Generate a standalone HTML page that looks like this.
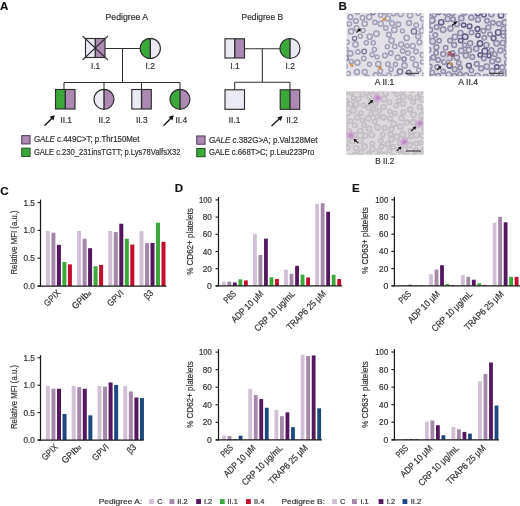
<!DOCTYPE html>
<html><head><meta charset="utf-8"><style>
html,body{margin:0;padding:0;background:#fff;width:520px;height:506px;overflow:hidden}
svg{display:block;will-change:transform}
text{font-family:"Liberation Sans",sans-serif;stroke:#333;stroke-width:0.2px}
</style></head><body>
<svg width="520" height="506" viewBox="0 0 520 506">
<text x="0.1" y="9.6" font-size="11.6" text-anchor="start" fill="#111" font-weight="bold" >A</text>
<text x="338.4" y="9.6" font-size="11.6" text-anchor="start" fill="#111" font-weight="bold" >B</text>
<text x="0.2" y="194.7" font-size="11.6" text-anchor="start" fill="#111" font-weight="bold" >C</text>
<text x="174.7" y="192.3" font-size="11.6" text-anchor="start" fill="#111" font-weight="bold" >D</text>
<text x="352.1" y="191.9" font-size="11.6" text-anchor="start" fill="#111" font-weight="bold" >E</text>
<text x="126.8" y="20" font-size="8.2" text-anchor="middle" fill="#333333" font-weight="normal" textLength="42.5" lengthAdjust="spacingAndGlyphs" >Pedigree A</text>
<line x1="105" y1="48.5" x2="140" y2="48.5" stroke="#2e2e2e" stroke-width="1.05"/>
<line x1="122.5" y1="48.5" x2="122.5" y2="82.5" stroke="#2e2e2e" stroke-width="1.05"/>
<rect x="85.5" y="38.5" width="9.75" height="19" fill="#eaeaf5"/>
<rect x="95.25" y="38.5" width="9.75" height="19" fill="#ab89b3"/>
<line x1="95.25" y1="38.5" x2="95.25" y2="57.5" stroke="#2e2e2e" stroke-width="1.38"/>
<rect x="85.5" y="38.5" width="19.5" height="19" fill="none" stroke="#2e2e2e" stroke-width="1.15"/>
<line x1="82.5" y1="36" x2="108" y2="60" stroke="#2e2e2e" stroke-width="1.05"/>
<line x1="82.5" y1="60" x2="108" y2="36" stroke="#2e2e2e" stroke-width="1.05"/>
<path d="M150.3,38.3 A10.1,10.1 0 0 0 150.3,58.5 Z" fill="#3aa93a"/>
<path d="M150.3,38.3 A10.1,10.1 0 0 1 150.3,58.5 Z" fill="#eaeaf5"/>
<line x1="150.3" y1="38.3" x2="150.3" y2="58.5" stroke="#2e2e2e" stroke-width="1.4375"/>
<circle cx="150.3" cy="48.4" r="10.1" fill="none" stroke="#2e2e2e" stroke-width="1.15"/>
<text x="95.6" y="69" font-size="8.4" text-anchor="middle" fill="#333333" font-weight="normal" >I.1</text>
<text x="150.2" y="69" font-size="8.4" text-anchor="middle" fill="#333333" font-weight="normal" >I.2</text>
<line x1="64" y1="82.5" x2="180" y2="82.5" stroke="#2e2e2e" stroke-width="1.05"/>
<line x1="64" y1="82.5" x2="64" y2="89.5" stroke="#2e2e2e" stroke-width="1.05"/>
<line x1="104" y1="82.5" x2="104" y2="89.5" stroke="#2e2e2e" stroke-width="1.05"/>
<line x1="141.5" y1="82.5" x2="141.5" y2="89.5" stroke="#2e2e2e" stroke-width="1.05"/>
<line x1="180" y1="82.5" x2="180" y2="89.5" stroke="#2e2e2e" stroke-width="1.05"/>
<rect x="55.5" y="89.5" width="9.75" height="19.5" fill="#3aa93a"/>
<rect x="65.25" y="89.5" width="9.75" height="19.5" fill="#ab89b3"/>
<line x1="65.25" y1="89.5" x2="65.25" y2="109.0" stroke="#2e2e2e" stroke-width="1.38"/>
<rect x="55.5" y="89.5" width="19.5" height="19.5" fill="none" stroke="#2e2e2e" stroke-width="1.15"/>
<path d="M104,89.3 A10,10 0 0 0 104,109.3 Z" fill="#eaeaf5"/>
<path d="M104,89.3 A10,10 0 0 1 104,109.3 Z" fill="#ab89b3"/>
<line x1="104" y1="89.3" x2="104" y2="109.3" stroke="#2e2e2e" stroke-width="1.4375"/>
<circle cx="104" cy="99.3" r="10" fill="none" stroke="#2e2e2e" stroke-width="1.15"/>
<rect x="131.8" y="89.5" width="9.75" height="19.5" fill="#eaeaf5"/>
<rect x="141.55" y="89.5" width="9.75" height="19.5" fill="#ab89b3"/>
<line x1="141.55" y1="89.5" x2="141.55" y2="109.0" stroke="#2e2e2e" stroke-width="1.38"/>
<rect x="131.8" y="89.5" width="19.5" height="19.5" fill="none" stroke="#2e2e2e" stroke-width="1.15"/>
<path d="M180,89.3 A10,10 0 0 0 180,109.3 Z" fill="#3aa93a"/>
<path d="M180,89.3 A10,10 0 0 1 180,109.3 Z" fill="#ab89b3"/>
<line x1="180" y1="89.3" x2="180" y2="109.3" stroke="#2e2e2e" stroke-width="1.4375"/>
<circle cx="180" cy="99.3" r="10" fill="none" stroke="#2e2e2e" stroke-width="1.15"/>
<text x="66.2" y="123" font-size="8.4" text-anchor="middle" fill="#333333" font-weight="normal" >II.1</text>
<text x="104.3" y="123" font-size="8.4" text-anchor="middle" fill="#333333" font-weight="normal" >II.2</text>
<text x="141.8" y="123" font-size="8.4" text-anchor="middle" fill="#333333" font-weight="normal" >II.3</text>
<text x="181.3" y="123" font-size="8.4" text-anchor="middle" fill="#333333" font-weight="normal" >II.4</text>
<line x1="44.5" y1="125.8" x2="51.928871245091464" y2="118.22687882781938" stroke="#111" stroke-width="1.3"/>
<path d="M54.80,115.30 L53.43,120.40 L49.72,116.76 Z" fill="#111"/>
<line x1="163.5" y1="125.8" x2="170.92887124509147" y2="118.22687882781938" stroke="#111" stroke-width="1.3"/>
<path d="M173.80,115.30 L172.43,120.40 L168.72,116.76 Z" fill="#111"/>
<text x="262.3" y="20" font-size="8.2" text-anchor="middle" fill="#333333" font-weight="normal" textLength="41.5" lengthAdjust="spacingAndGlyphs" >Pedigree B</text>
<line x1="244.5" y1="48.8" x2="280" y2="48.8" stroke="#2e2e2e" stroke-width="1.05"/>
<line x1="262.3" y1="48.8" x2="262.3" y2="82.3" stroke="#2e2e2e" stroke-width="1.05"/>
<rect x="225" y="38.8" width="9.75" height="19.2" fill="#eaeaf5"/>
<rect x="234.75" y="38.8" width="9.75" height="19.2" fill="#ab89b3"/>
<line x1="234.75" y1="38.8" x2="234.75" y2="58.0" stroke="#2e2e2e" stroke-width="1.38"/>
<rect x="225" y="38.8" width="19.5" height="19.2" fill="none" stroke="#2e2e2e" stroke-width="1.15"/>
<path d="M290,38.5 A10,10 0 0 0 290,58.5 Z" fill="#3aa93a"/>
<path d="M290,38.5 A10,10 0 0 1 290,58.5 Z" fill="#eaeaf5"/>
<line x1="290" y1="38.5" x2="290" y2="58.5" stroke="#2e2e2e" stroke-width="1.4375"/>
<circle cx="290" cy="48.5" r="10" fill="none" stroke="#2e2e2e" stroke-width="1.15"/>
<text x="234.9" y="69" font-size="8.4" text-anchor="middle" fill="#333333" font-weight="normal" >I.1</text>
<text x="290.2" y="69" font-size="8.4" text-anchor="middle" fill="#333333" font-weight="normal" >I.2</text>
<line x1="234.7" y1="82.3" x2="290" y2="82.3" stroke="#2e2e2e" stroke-width="1.05"/>
<line x1="234.7" y1="82.3" x2="234.7" y2="89.8" stroke="#2e2e2e" stroke-width="1.05"/>
<line x1="290" y1="82.3" x2="290" y2="89.8" stroke="#2e2e2e" stroke-width="1.05"/>
<rect x="225" y="89.8" width="9.75" height="19.5" fill="#eaeaf5"/>
<rect x="234.75" y="89.8" width="9.75" height="19.5" fill="#eaeaf5"/>
<rect x="225" y="89.8" width="19.5" height="19.5" fill="none" stroke="#2e2e2e" stroke-width="1.15"/>
<rect x="280.2" y="89.8" width="9.75" height="19.5" fill="#3aa93a"/>
<rect x="289.95" y="89.8" width="9.75" height="19.5" fill="#ab89b3"/>
<line x1="289.95" y1="89.8" x2="289.95" y2="109.3" stroke="#2e2e2e" stroke-width="1.38"/>
<rect x="280.2" y="89.8" width="19.5" height="19.5" fill="none" stroke="#2e2e2e" stroke-width="1.15"/>
<text x="234.5" y="123" font-size="8.4" text-anchor="middle" fill="#333333" font-weight="normal" >II.1</text>
<text x="292" y="123" font-size="8.4" text-anchor="middle" fill="#333333" font-weight="normal" >II.2</text>
<line x1="271.5" y1="126" x2="279.46624569907664" y2="118.7579584553849" stroke="#111" stroke-width="1.3"/>
<path d="M282.50,116.00 L280.85,121.02 L277.35,117.17 Z" fill="#111"/>
<rect x="21.75" y="135.64999999999998" width="8.3" height="8.3" fill="#ab89b3" stroke="#4a3052" stroke-width="0.95"/>
<text x="33.9" y="142.2" font-size="8.2" fill="#333333" textLength="105.5" lengthAdjust="spacingAndGlyphs"><tspan font-style="italic">GALE</tspan> c.449C&gt;T; p.Thr150Met</text>
<rect x="21.75" y="148.14999999999998" width="8.3" height="8.3" fill="#3aa93a" stroke="#1a4a1a" stroke-width="0.95"/>
<text x="33.9" y="154.7" font-size="8.2" fill="#333333" textLength="146.5" lengthAdjust="spacingAndGlyphs">GALE c.230_231insTGTT; p.Lys78ValfsX32</text>
<rect x="196.75" y="135.95" width="8.3" height="8.3" fill="#ab89b3" stroke="#4a3052" stroke-width="0.95"/>
<text x="208.9" y="142.5" font-size="8.2" fill="#333333" textLength="108.5" lengthAdjust="spacingAndGlyphs"><tspan font-style="italic">GALE</tspan> c.382G&gt;A; p.Val128Met</text>
<rect x="196.75" y="148.45" width="8.3" height="8.3" fill="#3aa93a" stroke="#1a4a1a" stroke-width="0.95"/>
<text x="208.9" y="155" font-size="8.2" fill="#333333" textLength="105.5" lengthAdjust="spacingAndGlyphs">GALE c.668T&gt;C; p.Leu223Pro</text>
<defs><filter id="bl" x="-5%" y="-5%" width="110%" height="110%"><feGaussianBlur stdDeviation="0.45"/></filter><filter id="bl2" x="-20%" y="-20%" width="140%" height="140%"><feGaussianBlur stdDeviation="0.9"/></filter></defs>
<rect x="346.5" y="13" width="77" height="63.3" fill="#e3e1e7"/>
<clipPath id="cp11"><rect x="346.5" y="13" width="77" height="63.3"/></clipPath><g clip-path="url(#cp11)"><g filter="url(#bl)">
<circle cx="419.4" cy="42.3" r="2.46" fill="#d0cedb" stroke="#9f9cb5" stroke-width="1.3"/>
<circle cx="419.4" cy="42.3" r="0.99" fill="#e6e5eb"/>
<circle cx="392.1" cy="23.4" r="2.46" fill="#d0cedb" stroke="#9f9cb5" stroke-width="1.3"/>
<circle cx="392.1" cy="23.4" r="1.00" fill="#e6e5eb"/>
<circle cx="395.5" cy="64.4" r="2.13" fill="#d0cedb" stroke="#9f9cb5" stroke-width="1.3"/>
<circle cx="395.5" cy="64.4" r="0.89" fill="#e6e5eb"/>
<circle cx="369.1" cy="17.1" r="2.70" fill="#d0cedb" stroke="#9f9cb5" stroke-width="1.3"/>
<circle cx="369.1" cy="17.1" r="1.07" fill="#e6e5eb"/>
<circle cx="400.7" cy="13.8" r="2.84" fill="#d0cedb" stroke="#9f9cb5" stroke-width="1.3"/>
<circle cx="400.7" cy="13.8" r="1.12" fill="#e6e5eb"/>
<circle cx="422.6" cy="55.0" r="2.54" fill="#d0cedb" stroke="#9f9cb5" stroke-width="1.3"/>
<circle cx="422.6" cy="55.0" r="1.02" fill="#e6e5eb"/>
<circle cx="357.3" cy="12.0" r="2.47" fill="#d0cedb" stroke="#9f9cb5" stroke-width="1.3"/>
<circle cx="357.3" cy="12.0" r="1.00" fill="#e6e5eb"/>
<circle cx="349.3" cy="23.8" r="2.24" fill="#d0cedb" stroke="#9f9cb5" stroke-width="1.3"/>
<circle cx="349.3" cy="23.8" r="0.93" fill="#e6e5eb"/>
<circle cx="346.9" cy="42.2" r="2.40" fill="#d0cedb" stroke="#9f9cb5" stroke-width="1.3"/>
<circle cx="346.9" cy="42.2" r="0.98" fill="#e6e5eb"/>
<circle cx="412.7" cy="45.9" r="2.56" fill="#d0cedb" stroke="#9f9cb5" stroke-width="1.3"/>
<circle cx="412.7" cy="45.9" r="1.03" fill="#e6e5eb"/>
<circle cx="385.0" cy="55.6" r="2.42" fill="#d0cedb" stroke="#9f9cb5" stroke-width="1.3"/>
<circle cx="385.0" cy="55.6" r="0.98" fill="#e6e5eb"/>
<circle cx="367.0" cy="78.1" r="2.85" fill="#d0cedb" stroke="#9f9cb5" stroke-width="1.3"/>
<circle cx="367.0" cy="78.1" r="1.12" fill="#e6e5eb"/>
<circle cx="412.6" cy="58.6" r="2.30" fill="#d0cedb" stroke="#9f9cb5" stroke-width="1.3"/>
<circle cx="412.6" cy="58.6" r="0.94" fill="#e6e5eb"/>
<circle cx="363.1" cy="30.5" r="2.11" fill="#d0cedb" stroke="#9f9cb5" stroke-width="1.3"/>
<circle cx="363.1" cy="30.5" r="0.88" fill="#e6e5eb"/>
<circle cx="406.6" cy="37.9" r="2.73" fill="#d0cedb" stroke="#9f9cb5" stroke-width="1.3"/>
<circle cx="406.6" cy="37.9" r="1.08" fill="#e6e5eb"/>
<circle cx="375.8" cy="75.5" r="2.73" fill="#d0cedb" stroke="#9f9cb5" stroke-width="1.3"/>
<circle cx="375.8" cy="75.5" r="1.08" fill="#e6e5eb"/>
<circle cx="382.6" cy="77.0" r="2.37" fill="#d0cedb" stroke="#9f9cb5" stroke-width="1.3"/>
<circle cx="382.6" cy="77.0" r="0.97" fill="#e6e5eb"/>
<circle cx="350.4" cy="53.4" r="2.67" fill="#d0cedb" stroke="#9f9cb5" stroke-width="1.3"/>
<circle cx="350.4" cy="53.4" r="1.06" fill="#e6e5eb"/>
<circle cx="422.6" cy="62.0" r="2.14" fill="#d0cedb" stroke="#9f9cb5" stroke-width="1.3"/>
<circle cx="422.6" cy="62.0" r="0.89" fill="#e6e5eb"/>
<circle cx="409.1" cy="23.0" r="2.50" fill="#d0cedb" stroke="#9f9cb5" stroke-width="1.3"/>
<circle cx="409.1" cy="23.0" r="1.01" fill="#e6e5eb"/>
<circle cx="380.7" cy="23.8" r="2.64" fill="#d0cedb" stroke="#9f9cb5" stroke-width="1.3"/>
<circle cx="380.7" cy="23.8" r="1.05" fill="#e6e5eb"/>
<circle cx="416.2" cy="25.2" r="2.37" fill="#d0cedb" stroke="#9f9cb5" stroke-width="1.3"/>
<circle cx="416.2" cy="25.2" r="0.96" fill="#e6e5eb"/>
<circle cx="424.6" cy="25.4" r="2.26" fill="#d0cedb" stroke="#9f9cb5" stroke-width="1.3"/>
<circle cx="424.6" cy="25.4" r="0.93" fill="#e6e5eb"/>
<circle cx="350.4" cy="17.1" r="2.52" fill="#d0cedb" stroke="#9f9cb5" stroke-width="1.3"/>
<circle cx="350.4" cy="17.1" r="1.01" fill="#e6e5eb"/>
<circle cx="364.2" cy="51.5" r="2.35" fill="#d0cedb" stroke="#7d7a9c" stroke-width="1.3"/>
<circle cx="364.2" cy="51.5" r="0.96" fill="#e6e5eb"/>
<circle cx="391.0" cy="69.3" r="2.20" fill="#d0cedb" stroke="#9f9cb5" stroke-width="1.3"/>
<circle cx="391.0" cy="69.3" r="0.91" fill="#e6e5eb"/>
<circle cx="357.0" cy="72.1" r="2.70" fill="#d0cedb" stroke="#9f9cb5" stroke-width="1.3"/>
<circle cx="357.0" cy="72.1" r="1.07" fill="#e6e5eb"/>
<circle cx="364.7" cy="23.8" r="2.64" fill="#d0cedb" stroke="#9f9cb5" stroke-width="1.3"/>
<circle cx="364.7" cy="23.8" r="1.05" fill="#e6e5eb"/>
<circle cx="416.0" cy="51.6" r="2.39" fill="#d0cedb" stroke="#9f9cb5" stroke-width="1.3"/>
<circle cx="416.0" cy="51.6" r="0.97" fill="#e6e5eb"/>
<circle cx="363.8" cy="58.4" r="2.26" fill="#d0cedb" stroke="#9f9cb5" stroke-width="1.3"/>
<circle cx="363.8" cy="58.4" r="0.93" fill="#e6e5eb"/>
<circle cx="394.3" cy="29.9" r="2.78" fill="#d0cedb" stroke="#9f9cb5" stroke-width="1.3"/>
<circle cx="394.3" cy="29.9" r="1.10" fill="#e6e5eb"/>
<circle cx="380.6" cy="15.1" r="2.19" fill="#d0cedb" stroke="#9f9cb5" stroke-width="1.3"/>
<circle cx="380.6" cy="15.1" r="0.91" fill="#e6e5eb"/>
<circle cx="374.4" cy="49.5" r="2.16" fill="#d0cedb" stroke="#9f9cb5" stroke-width="1.3"/>
<circle cx="374.4" cy="49.5" r="0.90" fill="#e6e5eb"/>
<circle cx="397.7" cy="57.5" r="2.52" fill="#d0cedb" stroke="#9f9cb5" stroke-width="1.3"/>
<circle cx="397.7" cy="57.5" r="1.01" fill="#e6e5eb"/>
<circle cx="408.8" cy="72.6" r="2.33" fill="#d0cedb" stroke="#7d7a9c" stroke-width="1.3"/>
<circle cx="408.8" cy="72.6" r="0.95" fill="#e6e5eb"/>
<circle cx="400.0" cy="71.6" r="2.75" fill="#d0cedb" stroke="#7d7a9c" stroke-width="1.3"/>
<circle cx="400.0" cy="71.6" r="1.09" fill="#e6e5eb"/>
<circle cx="378.3" cy="64.2" r="2.74" fill="#d0cedb" stroke="#9f9cb5" stroke-width="1.3"/>
<circle cx="378.3" cy="64.2" r="1.09" fill="#e6e5eb"/>
<circle cx="390.9" cy="53.1" r="2.36" fill="#d0cedb" stroke="#9f9cb5" stroke-width="1.3"/>
<circle cx="390.9" cy="53.1" r="0.96" fill="#e6e5eb"/>
<circle cx="396.3" cy="77.9" r="2.75" fill="#d0cedb" stroke="#9f9cb5" stroke-width="1.3"/>
<circle cx="396.3" cy="77.9" r="1.09" fill="#e6e5eb"/>
<circle cx="391.6" cy="40.6" r="2.72" fill="#d0cedb" stroke="#9f9cb5" stroke-width="1.3"/>
<circle cx="391.6" cy="40.6" r="1.08" fill="#e6e5eb"/>
<circle cx="351.3" cy="61.5" r="2.07" fill="#d0cedb" stroke="#9f9cb5" stroke-width="1.3"/>
<circle cx="351.3" cy="61.5" r="0.87" fill="#e6e5eb"/>
<circle cx="401.1" cy="44.5" r="2.54" fill="#d0cedb" stroke="#9f9cb5" stroke-width="1.3"/>
<circle cx="401.1" cy="44.5" r="1.02" fill="#e6e5eb"/>
<circle cx="380.3" cy="71.0" r="2.31" fill="#d0cedb" stroke="#9f9cb5" stroke-width="1.3"/>
<circle cx="380.3" cy="71.0" r="0.95" fill="#e6e5eb"/>
<circle cx="398.4" cy="24.4" r="2.39" fill="#d0cedb" stroke="#9f9cb5" stroke-width="1.3"/>
<circle cx="398.4" cy="24.4" r="0.97" fill="#e6e5eb"/>
<circle cx="355.5" cy="44.4" r="2.72" fill="#d0cedb" stroke="#9f9cb5" stroke-width="1.3"/>
<circle cx="355.5" cy="44.4" r="1.08" fill="#e6e5eb"/>
<circle cx="412.5" cy="77.1" r="2.41" fill="#d0cedb" stroke="#9f9cb5" stroke-width="1.3"/>
<circle cx="412.5" cy="77.1" r="0.98" fill="#e6e5eb"/>
<circle cx="369.5" cy="64.3" r="2.07" fill="#d0cedb" stroke="#9f9cb5" stroke-width="1.3"/>
<circle cx="369.5" cy="64.3" r="0.87" fill="#e6e5eb"/>
<circle cx="418.2" cy="36.4" r="2.51" fill="#d0cedb" stroke="#9f9cb5" stroke-width="1.3"/>
<circle cx="418.2" cy="36.4" r="1.01" fill="#e6e5eb"/>
<circle cx="415.7" cy="64.6" r="2.81" fill="#d0cedb" stroke="#9f9cb5" stroke-width="1.3"/>
<circle cx="415.7" cy="64.6" r="1.11" fill="#e6e5eb"/>
<circle cx="388.0" cy="64.2" r="2.31" fill="#d0cedb" stroke="#9f9cb5" stroke-width="1.3"/>
<circle cx="388.0" cy="64.2" r="0.95" fill="#e6e5eb"/>
<circle cx="410.0" cy="15.3" r="2.69" fill="#d0cedb" stroke="#9f9cb5" stroke-width="1.3"/>
<circle cx="410.0" cy="15.3" r="1.07" fill="#e6e5eb"/>
<circle cx="355.9" cy="21.0" r="2.46" fill="#d0cedb" stroke="#9f9cb5" stroke-width="1.3"/>
<circle cx="355.9" cy="21.0" r="1.00" fill="#e6e5eb"/>
<circle cx="369.7" cy="36.7" r="2.73" fill="#d0cedb" stroke="#9f9cb5" stroke-width="1.3"/>
<circle cx="369.7" cy="36.7" r="1.08" fill="#e6e5eb"/>
<circle cx="393.5" cy="12.9" r="2.83" fill="#d0cedb" stroke="#9f9cb5" stroke-width="1.3"/>
<circle cx="393.5" cy="12.9" r="1.11" fill="#e6e5eb"/>
<circle cx="366.3" cy="42.8" r="2.15" fill="#d0cedb" stroke="#9f9cb5" stroke-width="1.3"/>
<circle cx="366.3" cy="42.8" r="0.90" fill="#e6e5eb"/>
<circle cx="385.8" cy="27.9" r="2.21" fill="#d0cedb" stroke="#9f9cb5" stroke-width="1.3"/>
<circle cx="385.8" cy="27.9" r="0.91" fill="#e6e5eb"/>
<circle cx="404.5" cy="65.5" r="2.77" fill="#d0cedb" stroke="#9f9cb5" stroke-width="1.3"/>
<circle cx="404.5" cy="65.5" r="1.10" fill="#e6e5eb"/>
<circle cx="377.1" cy="57.1" r="2.06" fill="#d0cedb" stroke="#9f9cb5" stroke-width="1.3"/>
<circle cx="377.1" cy="57.1" r="0.87" fill="#e6e5eb"/>
<circle cx="422.9" cy="18.8" r="2.45" fill="#d0cedb" stroke="#9f9cb5" stroke-width="1.3"/>
<circle cx="422.9" cy="18.8" r="0.99" fill="#e6e5eb"/>
<circle cx="345.6" cy="58.2" r="2.73" fill="#d0cedb" stroke="#7d7a9c" stroke-width="1.3"/>
<circle cx="345.6" cy="58.2" r="1.08" fill="#e6e5eb"/>
<circle cx="386.0" cy="12.0" r="2.76" fill="#d0cedb" stroke="#9f9cb5" stroke-width="1.3"/>
<circle cx="386.0" cy="12.0" r="1.09" fill="#e6e5eb"/>
<circle cx="360.3" cy="36.3" r="2.13" fill="#d0cedb" stroke="#9f9cb5" stroke-width="1.3"/>
<circle cx="360.3" cy="36.3" r="0.89" fill="#e6e5eb"/>
<circle cx="364.8" cy="71.9" r="2.49" fill="#d0cedb" stroke="#9f9cb5" stroke-width="1.3"/>
<circle cx="364.8" cy="71.9" r="1.00" fill="#e6e5eb"/>
<circle cx="348.2" cy="73.6" r="2.18" fill="#d0cedb" stroke="#9f9cb5" stroke-width="1.3"/>
<circle cx="348.2" cy="73.6" r="0.90" fill="#e6e5eb"/>
<circle cx="402.5" cy="30.9" r="2.06" fill="#d0cedb" stroke="#9f9cb5" stroke-width="1.3"/>
<circle cx="402.5" cy="30.9" r="0.87" fill="#e6e5eb"/>
<circle cx="425.3" cy="75.1" r="2.64" fill="#d0cedb" stroke="#9f9cb5" stroke-width="1.3"/>
<circle cx="425.3" cy="75.1" r="1.05" fill="#e6e5eb"/>
<circle cx="408.0" cy="53.1" r="2.34" fill="#d0cedb" stroke="#9f9cb5" stroke-width="1.3"/>
<circle cx="408.0" cy="53.1" r="0.96" fill="#e6e5eb"/>
<circle cx="418.7" cy="70.1" r="2.08" fill="#d0cedb" stroke="#9f9cb5" stroke-width="1.3"/>
<circle cx="418.7" cy="70.1" r="0.87" fill="#e6e5eb"/>
<circle cx="351.1" cy="31.4" r="2.63" fill="#d0cedb" stroke="#9f9cb5" stroke-width="1.3"/>
<circle cx="351.1" cy="31.4" r="1.05" fill="#e6e5eb"/>
<circle cx="376.4" cy="33.7" r="2.82" fill="#d0cedb" stroke="#9f9cb5" stroke-width="1.3"/>
<circle cx="376.4" cy="33.7" r="1.11" fill="#e6e5eb"/>
<circle cx="374.9" cy="22.3" r="2.21" fill="#d0cedb" stroke="#9f9cb5" stroke-width="1.3"/>
<circle cx="374.9" cy="22.3" r="0.92" fill="#e6e5eb"/>
<circle cx="418.2" cy="13.4" r="2.14" fill="#d0cedb" stroke="#9f9cb5" stroke-width="1.3"/>
<circle cx="418.2" cy="13.4" r="0.89" fill="#e6e5eb"/>
<circle cx="402.6" cy="51.0" r="2.23" fill="#d0cedb" stroke="#9f9cb5" stroke-width="1.3"/>
<circle cx="402.6" cy="51.0" r="0.92" fill="#e6e5eb"/>
<circle cx="388.8" cy="75.4" r="2.44" fill="#d0cedb" stroke="#9f9cb5" stroke-width="1.3"/>
<circle cx="388.8" cy="75.4" r="0.99" fill="#e6e5eb"/>
<circle cx="344.6" cy="66.3" r="2.73" fill="#d0cedb" stroke="#9f9cb5" stroke-width="1.3"/>
<circle cx="344.6" cy="66.3" r="1.08" fill="#e6e5eb"/>
<circle cx="413.9" cy="31.4" r="2.68" fill="#d0cedb" stroke="#7d7a9c" stroke-width="1.3"/>
<circle cx="413.9" cy="31.4" r="1.07" fill="#e6e5eb"/>
<circle cx="354.6" cy="38.4" r="2.11" fill="#d0cedb" stroke="#7d7a9c" stroke-width="1.3"/>
<circle cx="354.6" cy="38.4" r="0.88" fill="#e6e5eb"/>
<circle cx="372.2" cy="54.8" r="2.14" fill="#d0cedb" stroke="#9f9cb5" stroke-width="1.3"/>
<circle cx="372.2" cy="54.8" r="0.89" fill="#e6e5eb"/>
<circle cx="357.3" cy="62.6" r="2.77" fill="#d0cedb" stroke="#9f9cb5" stroke-width="1.3"/>
<circle cx="357.3" cy="62.6" r="1.10" fill="#e6e5eb"/>
<circle cx="388.9" cy="34.7" r="2.45" fill="#d0cedb" stroke="#9f9cb5" stroke-width="1.3"/>
<circle cx="388.9" cy="34.7" r="0.99" fill="#e6e5eb"/>
<circle cx="373.2" cy="42.8" r="2.19" fill="#d0cedb" stroke="#9f9cb5" stroke-width="1.3"/>
<circle cx="373.2" cy="42.8" r="0.91" fill="#e6e5eb"/>
<circle cx="387.3" cy="46.7" r="2.09" fill="#d0cedb" stroke="#9f9cb5" stroke-width="1.3"/>
<circle cx="387.3" cy="46.7" r="0.88" fill="#e6e5eb"/>
<circle cx="357.9" cy="51.9" r="2.24" fill="#d0cedb" stroke="#9f9cb5" stroke-width="1.3"/>
<circle cx="357.9" cy="51.9" r="0.92" fill="#e6e5eb"/>
<circle cx="394.8" cy="46.4" r="2.26" fill="#d0cedb" stroke="#9f9cb5" stroke-width="1.3"/>
<circle cx="394.8" cy="46.4" r="0.93" fill="#e6e5eb"/>
<circle cx="406.9" cy="45.9" r="2.09" fill="#d0cedb" stroke="#9f9cb5" stroke-width="1.3"/>
<circle cx="406.9" cy="45.9" r="0.88" fill="#e6e5eb"/>
<circle cx="346.1" cy="49.1" r="2.16" fill="#d0cedb" stroke="#9f9cb5" stroke-width="1.3"/>
<circle cx="346.1" cy="49.1" r="0.90" fill="#e6e5eb"/>
<circle cx="421.8" cy="30.7" r="2.61" fill="#d0cedb" stroke="#9f9cb5" stroke-width="1.3"/>
<circle cx="421.8" cy="30.7" r="1.04" fill="#e6e5eb"/>
<circle cx="387.7" cy="18.5" r="2.68" fill="#d0cedb" stroke="#9f9cb5" stroke-width="1.3"/>
<circle cx="387.7" cy="18.5" r="1.07" fill="#e6e5eb"/>
<circle cx="404.0" cy="59.0" r="2.18" fill="#d0cedb" stroke="#7d7a9c" stroke-width="1.3"/>
<circle cx="404.0" cy="59.0" r="0.90" fill="#e6e5eb"/>
<circle cx="362.5" cy="17.7" r="2.35" fill="#d0cedb" stroke="#9f9cb5" stroke-width="1.3"/>
<circle cx="362.5" cy="17.7" r="0.96" fill="#e6e5eb"/>
<circle cx="356.6" cy="28.1" r="2.43" fill="#d0cedb" stroke="#9f9cb5" stroke-width="1.3"/>
<circle cx="356.6" cy="28.1" r="0.99" fill="#e6e5eb"/>
<circle cx="373.1" cy="12.5" r="2.18" fill="#d0cedb" stroke="#7d7a9c" stroke-width="1.3"/>
<circle cx="373.1" cy="12.5" r="0.91" fill="#e6e5eb"/>
</g>
</g>
<rect x="429.3" y="13.4" width="77.3" height="62.9" fill="#e0dee5"/>
<clipPath id="cp12"><rect x="429.3" y="13.4" width="77.3" height="62.9"/></clipPath><g clip-path="url(#cp12)"><g filter="url(#bl)">
<circle cx="465.9" cy="55.4" r="2.63" fill="#c8c5d5" stroke="#8f8ba9" stroke-width="1.4"/>
<circle cx="465.9" cy="55.4" r="1.07" fill="#dedce6"/>
<circle cx="438.9" cy="12.1" r="2.40" fill="#c8c5d5" stroke="#615b88" stroke-width="1.4"/>
<circle cx="438.9" cy="12.1" r="0.99" fill="#dedce6"/>
<circle cx="449.6" cy="65.6" r="2.65" fill="#c8c5d5" stroke="#615b88" stroke-width="1.4"/>
<circle cx="449.6" cy="65.6" r="1.07" fill="#dedce6"/>
<circle cx="476.2" cy="48.7" r="2.63" fill="#c8c5d5" stroke="#8f8ba9" stroke-width="1.4"/>
<circle cx="476.2" cy="48.7" r="1.07" fill="#dedce6"/>
<circle cx="439.1" cy="40.8" r="2.23" fill="#c8c5d5" stroke="#8f8ba9" stroke-width="1.4"/>
<circle cx="439.1" cy="40.8" r="0.94" fill="#dedce6"/>
<circle cx="501.0" cy="15.3" r="2.76" fill="#c8c5d5" stroke="#615b88" stroke-width="1.4"/>
<circle cx="501.0" cy="15.3" r="1.11" fill="#dedce6"/>
<circle cx="433.4" cy="57.4" r="2.37" fill="#c8c5d5" stroke="#8f8ba9" stroke-width="1.4"/>
<circle cx="433.4" cy="57.4" r="0.98" fill="#dedce6"/>
<circle cx="460.2" cy="67.8" r="2.11" fill="#c8c5d5" stroke="#8f8ba9" stroke-width="1.4"/>
<circle cx="460.2" cy="67.8" r="0.90" fill="#dedce6"/>
<circle cx="432.2" cy="72.6" r="2.51" fill="#c8c5d5" stroke="#8f8ba9" stroke-width="1.4"/>
<circle cx="432.2" cy="72.6" r="1.03" fill="#dedce6"/>
<circle cx="452.7" cy="53.0" r="2.23" fill="#c8c5d5" stroke="#8f8ba9" stroke-width="1.4"/>
<circle cx="452.7" cy="53.0" r="0.94" fill="#dedce6"/>
<circle cx="484.0" cy="14.8" r="2.24" fill="#c8c5d5" stroke="#615b88" stroke-width="1.4"/>
<circle cx="484.0" cy="14.8" r="0.94" fill="#dedce6"/>
<circle cx="493.6" cy="38.2" r="2.44" fill="#c8c5d5" stroke="#615b88" stroke-width="1.4"/>
<circle cx="493.6" cy="38.2" r="1.00" fill="#dedce6"/>
<circle cx="506.7" cy="55.8" r="2.39" fill="#c8c5d5" stroke="#8f8ba9" stroke-width="1.4"/>
<circle cx="506.7" cy="55.8" r="0.99" fill="#dedce6"/>
<circle cx="456.8" cy="57.6" r="2.64" fill="#c8c5d5" stroke="#8f8ba9" stroke-width="1.4"/>
<circle cx="456.8" cy="57.6" r="1.07" fill="#dedce6"/>
<circle cx="436.6" cy="27.1" r="2.39" fill="#c8c5d5" stroke="#8f8ba9" stroke-width="1.4"/>
<circle cx="436.6" cy="27.1" r="0.99" fill="#dedce6"/>
<circle cx="468.9" cy="65.6" r="2.50" fill="#c8c5d5" stroke="#615b88" stroke-width="1.4"/>
<circle cx="468.9" cy="65.6" r="1.02" fill="#dedce6"/>
<circle cx="429.6" cy="66.4" r="2.44" fill="#c8c5d5" stroke="#8f8ba9" stroke-width="1.4"/>
<circle cx="429.6" cy="66.4" r="1.01" fill="#dedce6"/>
<circle cx="469.5" cy="26.3" r="2.44" fill="#c8c5d5" stroke="#615b88" stroke-width="1.4"/>
<circle cx="469.5" cy="26.3" r="1.01" fill="#dedce6"/>
<circle cx="458.9" cy="63.0" r="2.18" fill="#c8c5d5" stroke="#8f8ba9" stroke-width="1.4"/>
<circle cx="458.9" cy="63.0" r="0.92" fill="#dedce6"/>
<circle cx="430.3" cy="29.9" r="2.38" fill="#c8c5d5" stroke="#8f8ba9" stroke-width="1.4"/>
<circle cx="430.3" cy="29.9" r="0.98" fill="#dedce6"/>
<circle cx="466.0" cy="75.5" r="2.48" fill="#c8c5d5" stroke="#8f8ba9" stroke-width="1.4"/>
<circle cx="466.0" cy="75.5" r="1.02" fill="#dedce6"/>
<circle cx="505.0" cy="22.6" r="2.84" fill="#c8c5d5" stroke="#8f8ba9" stroke-width="1.4"/>
<circle cx="505.0" cy="22.6" r="1.13" fill="#dedce6"/>
<circle cx="456.9" cy="24.1" r="2.70" fill="#c8c5d5" stroke="#8f8ba9" stroke-width="1.4"/>
<circle cx="456.9" cy="24.1" r="1.09" fill="#dedce6"/>
<circle cx="490.0" cy="34.3" r="2.29" fill="#c8c5d5" stroke="#8f8ba9" stroke-width="1.4"/>
<circle cx="490.0" cy="34.3" r="0.96" fill="#dedce6"/>
<circle cx="428.0" cy="14.1" r="2.60" fill="#c8c5d5" stroke="#8f8ba9" stroke-width="1.4"/>
<circle cx="428.0" cy="14.1" r="1.05" fill="#dedce6"/>
<circle cx="507.3" cy="78.2" r="2.50" fill="#c8c5d5" stroke="#615b88" stroke-width="1.4"/>
<circle cx="507.3" cy="78.2" r="1.02" fill="#dedce6"/>
<circle cx="494.9" cy="54.2" r="2.28" fill="#c8c5d5" stroke="#8f8ba9" stroke-width="1.4"/>
<circle cx="494.9" cy="54.2" r="0.95" fill="#dedce6"/>
<circle cx="470.2" cy="43.3" r="2.60" fill="#c8c5d5" stroke="#8f8ba9" stroke-width="1.4"/>
<circle cx="470.2" cy="43.3" r="1.06" fill="#dedce6"/>
<circle cx="448.7" cy="74.7" r="2.82" fill="#c8c5d5" stroke="#8f8ba9" stroke-width="1.4"/>
<circle cx="448.7" cy="74.7" r="1.12" fill="#dedce6"/>
<circle cx="483.9" cy="58.5" r="2.27" fill="#c8c5d5" stroke="#8f8ba9" stroke-width="1.4"/>
<circle cx="483.9" cy="58.5" r="0.95" fill="#dedce6"/>
<circle cx="450.5" cy="28.5" r="2.65" fill="#c8c5d5" stroke="#8f8ba9" stroke-width="1.4"/>
<circle cx="450.5" cy="28.5" r="1.07" fill="#dedce6"/>
<circle cx="506.9" cy="48.9" r="2.60" fill="#c8c5d5" stroke="#8f8ba9" stroke-width="1.4"/>
<circle cx="506.9" cy="48.9" r="1.06" fill="#dedce6"/>
<circle cx="461.3" cy="50.8" r="2.82" fill="#c8c5d5" stroke="#8f8ba9" stroke-width="1.4"/>
<circle cx="461.3" cy="50.8" r="1.13" fill="#dedce6"/>
<circle cx="491.5" cy="50.2" r="2.38" fill="#c8c5d5" stroke="#8f8ba9" stroke-width="1.4"/>
<circle cx="491.5" cy="50.2" r="0.98" fill="#dedce6"/>
<circle cx="492.2" cy="71.4" r="2.83" fill="#c8c5d5" stroke="#8f8ba9" stroke-width="1.4"/>
<circle cx="492.2" cy="71.4" r="1.13" fill="#dedce6"/>
<circle cx="435.3" cy="35.0" r="2.35" fill="#c8c5d5" stroke="#8f8ba9" stroke-width="1.4"/>
<circle cx="435.3" cy="35.0" r="0.98" fill="#dedce6"/>
<circle cx="477.9" cy="19.7" r="2.53" fill="#c8c5d5" stroke="#8f8ba9" stroke-width="1.4"/>
<circle cx="477.9" cy="19.7" r="1.03" fill="#dedce6"/>
<circle cx="484.3" cy="37.8" r="2.30" fill="#c8c5d5" stroke="#8f8ba9" stroke-width="1.4"/>
<circle cx="484.3" cy="37.8" r="0.96" fill="#dedce6"/>
<circle cx="460.4" cy="33.0" r="2.65" fill="#c8c5d5" stroke="#8f8ba9" stroke-width="1.4"/>
<circle cx="460.4" cy="33.0" r="1.07" fill="#dedce6"/>
<circle cx="503.3" cy="35.9" r="2.12" fill="#c8c5d5" stroke="#8f8ba9" stroke-width="1.4"/>
<circle cx="503.3" cy="35.9" r="0.90" fill="#dedce6"/>
<circle cx="496.8" cy="67.0" r="2.28" fill="#c8c5d5" stroke="#615b88" stroke-width="1.4"/>
<circle cx="496.8" cy="67.0" r="0.95" fill="#dedce6"/>
<circle cx="472.3" cy="56.9" r="2.38" fill="#c8c5d5" stroke="#8f8ba9" stroke-width="1.4"/>
<circle cx="472.3" cy="56.9" r="0.99" fill="#dedce6"/>
<circle cx="445.6" cy="47.8" r="2.30" fill="#c8c5d5" stroke="#8f8ba9" stroke-width="1.4"/>
<circle cx="445.6" cy="47.8" r="0.96" fill="#dedce6"/>
<circle cx="476.8" cy="63.9" r="2.43" fill="#c8c5d5" stroke="#8f8ba9" stroke-width="1.4"/>
<circle cx="476.8" cy="63.9" r="1.00" fill="#dedce6"/>
<circle cx="477.5" cy="29.0" r="2.43" fill="#c8c5d5" stroke="#615b88" stroke-width="1.4"/>
<circle cx="477.5" cy="29.0" r="1.00" fill="#dedce6"/>
<circle cx="492.9" cy="22.8" r="2.26" fill="#c8c5d5" stroke="#8f8ba9" stroke-width="1.4"/>
<circle cx="492.9" cy="22.8" r="0.95" fill="#dedce6"/>
<circle cx="441.2" cy="22.3" r="2.67" fill="#c8c5d5" stroke="#615b88" stroke-width="1.4"/>
<circle cx="441.2" cy="22.3" r="1.08" fill="#dedce6"/>
<circle cx="434.1" cy="15.2" r="2.11" fill="#c8c5d5" stroke="#8f8ba9" stroke-width="1.4"/>
<circle cx="434.1" cy="15.2" r="0.90" fill="#dedce6"/>
<circle cx="447.6" cy="19.0" r="2.65" fill="#c8c5d5" stroke="#8f8ba9" stroke-width="1.4"/>
<circle cx="447.6" cy="19.0" r="1.07" fill="#dedce6"/>
<circle cx="477.4" cy="76.0" r="2.87" fill="#c8c5d5" stroke="#8f8ba9" stroke-width="1.4"/>
<circle cx="477.4" cy="76.0" r="1.14" fill="#dedce6"/>
<circle cx="444.1" cy="62.0" r="2.44" fill="#c8c5d5" stroke="#8f8ba9" stroke-width="1.4"/>
<circle cx="444.1" cy="62.0" r="1.00" fill="#dedce6"/>
<circle cx="471.5" cy="32.5" r="2.29" fill="#c8c5d5" stroke="#8f8ba9" stroke-width="1.4"/>
<circle cx="471.5" cy="32.5" r="0.96" fill="#dedce6"/>
<circle cx="507.5" cy="62.6" r="2.85" fill="#c8c5d5" stroke="#8f8ba9" stroke-width="1.4"/>
<circle cx="507.5" cy="62.6" r="1.13" fill="#dedce6"/>
<circle cx="486.7" cy="66.6" r="2.71" fill="#c8c5d5" stroke="#8f8ba9" stroke-width="1.4"/>
<circle cx="486.7" cy="66.6" r="1.09" fill="#dedce6"/>
<circle cx="454.9" cy="36.9" r="2.79" fill="#c8c5d5" stroke="#8f8ba9" stroke-width="1.4"/>
<circle cx="454.9" cy="36.9" r="1.12" fill="#dedce6"/>
<circle cx="461.3" cy="18.2" r="2.69" fill="#c8c5d5" stroke="#8f8ba9" stroke-width="1.4"/>
<circle cx="461.3" cy="18.2" r="1.08" fill="#dedce6"/>
<circle cx="454.2" cy="45.0" r="2.47" fill="#c8c5d5" stroke="#8f8ba9" stroke-width="1.4"/>
<circle cx="454.2" cy="45.0" r="1.01" fill="#dedce6"/>
<circle cx="443.3" cy="54.1" r="2.61" fill="#c8c5d5" stroke="#8f8ba9" stroke-width="1.4"/>
<circle cx="443.3" cy="54.1" r="1.06" fill="#dedce6"/>
<circle cx="488.4" cy="27.4" r="2.52" fill="#c8c5d5" stroke="#8f8ba9" stroke-width="1.4"/>
<circle cx="488.4" cy="27.4" r="1.03" fill="#dedce6"/>
<circle cx="486.4" cy="45.0" r="2.63" fill="#c8c5d5" stroke="#8f8ba9" stroke-width="1.4"/>
<circle cx="486.4" cy="45.0" r="1.07" fill="#dedce6"/>
<circle cx="452.2" cy="13.0" r="2.81" fill="#c8c5d5" stroke="#8f8ba9" stroke-width="1.4"/>
<circle cx="452.2" cy="13.0" r="1.12" fill="#dedce6"/>
<circle cx="437.2" cy="67.1" r="2.40" fill="#c8c5d5" stroke="#8f8ba9" stroke-width="1.4"/>
<circle cx="437.2" cy="67.1" r="0.99" fill="#dedce6"/>
<circle cx="501.3" cy="73.7" r="2.52" fill="#c8c5d5" stroke="#8f8ba9" stroke-width="1.4"/>
<circle cx="501.3" cy="73.7" r="1.03" fill="#dedce6"/>
<circle cx="436.1" cy="52.7" r="2.25" fill="#c8c5d5" stroke="#8f8ba9" stroke-width="1.4"/>
<circle cx="436.1" cy="52.7" r="0.94" fill="#dedce6"/>
<circle cx="492.3" cy="61.4" r="2.52" fill="#c8c5d5" stroke="#8f8ba9" stroke-width="1.4"/>
<circle cx="492.3" cy="61.4" r="1.03" fill="#dedce6"/>
<circle cx="438.2" cy="76.0" r="2.53" fill="#c8c5d5" stroke="#8f8ba9" stroke-width="1.4"/>
<circle cx="438.2" cy="76.0" r="1.03" fill="#dedce6"/>
<circle cx="477.9" cy="35.3" r="2.18" fill="#c8c5d5" stroke="#615b88" stroke-width="1.4"/>
<circle cx="477.9" cy="35.3" r="0.92" fill="#dedce6"/>
<circle cx="507.6" cy="71.9" r="2.34" fill="#c8c5d5" stroke="#8f8ba9" stroke-width="1.4"/>
<circle cx="507.6" cy="71.9" r="0.97" fill="#dedce6"/>
<circle cx="498.2" cy="32.5" r="2.85" fill="#c8c5d5" stroke="#615b88" stroke-width="1.4"/>
<circle cx="498.2" cy="32.5" r="1.14" fill="#dedce6"/>
<circle cx="480.2" cy="54.9" r="2.22" fill="#c8c5d5" stroke="#615b88" stroke-width="1.4"/>
<circle cx="480.2" cy="54.9" r="0.93" fill="#dedce6"/>
<circle cx="487.0" cy="20.8" r="2.34" fill="#c8c5d5" stroke="#8f8ba9" stroke-width="1.4"/>
<circle cx="487.0" cy="20.8" r="0.97" fill="#dedce6"/>
<circle cx="502.2" cy="67.6" r="2.53" fill="#c8c5d5" stroke="#8f8ba9" stroke-width="1.4"/>
<circle cx="502.2" cy="67.6" r="1.03" fill="#dedce6"/>
<circle cx="454.5" cy="75.6" r="2.22" fill="#c8c5d5" stroke="#8f8ba9" stroke-width="1.4"/>
<circle cx="454.5" cy="75.6" r="0.93" fill="#dedce6"/>
<circle cx="449.5" cy="58.0" r="2.81" fill="#c8c5d5" stroke="#8f8ba9" stroke-width="1.4"/>
<circle cx="449.5" cy="58.0" r="1.12" fill="#dedce6"/>
<circle cx="507.7" cy="11.8" r="2.47" fill="#c8c5d5" stroke="#8f8ba9" stroke-width="1.4"/>
<circle cx="507.7" cy="11.8" r="1.01" fill="#dedce6"/>
<circle cx="432.2" cy="20.4" r="2.84" fill="#c8c5d5" stroke="#8f8ba9" stroke-width="1.4"/>
<circle cx="432.2" cy="20.4" r="1.13" fill="#dedce6"/>
<circle cx="485.7" cy="77.2" r="2.75" fill="#c8c5d5" stroke="#8f8ba9" stroke-width="1.4"/>
<circle cx="485.7" cy="77.2" r="1.10" fill="#dedce6"/>
<circle cx="480.0" cy="43.6" r="2.78" fill="#c8c5d5" stroke="#615b88" stroke-width="1.4"/>
<circle cx="480.0" cy="43.6" r="1.11" fill="#dedce6"/>
<circle cx="460.7" cy="40.6" r="2.24" fill="#c8c5d5" stroke="#615b88" stroke-width="1.4"/>
<circle cx="460.7" cy="40.6" r="0.94" fill="#dedce6"/>
<circle cx="443.2" cy="71.3" r="2.15" fill="#c8c5d5" stroke="#8f8ba9" stroke-width="1.4"/>
<circle cx="443.2" cy="71.3" r="0.91" fill="#dedce6"/>
<circle cx="477.9" cy="13.4" r="2.46" fill="#c8c5d5" stroke="#615b88" stroke-width="1.4"/>
<circle cx="477.9" cy="13.4" r="1.01" fill="#dedce6"/>
<circle cx="471.3" cy="17.5" r="2.56" fill="#c8c5d5" stroke="#8f8ba9" stroke-width="1.4"/>
<circle cx="471.3" cy="17.5" r="1.04" fill="#dedce6"/>
<circle cx="428.2" cy="50.0" r="2.70" fill="#c8c5d5" stroke="#8f8ba9" stroke-width="1.4"/>
<circle cx="428.2" cy="50.0" r="1.09" fill="#dedce6"/>
<circle cx="471.4" cy="70.6" r="2.21" fill="#c8c5d5" stroke="#8f8ba9" stroke-width="1.4"/>
<circle cx="471.4" cy="70.6" r="0.93" fill="#dedce6"/>
<circle cx="498.1" cy="60.0" r="2.43" fill="#c8c5d5" stroke="#8f8ba9" stroke-width="1.4"/>
<circle cx="498.1" cy="60.0" r="1.00" fill="#dedce6"/>
<circle cx="464.4" cy="12.7" r="2.47" fill="#c8c5d5" stroke="#8f8ba9" stroke-width="1.4"/>
<circle cx="464.4" cy="12.7" r="1.01" fill="#dedce6"/>
<circle cx="432.5" cy="41.3" r="2.89" fill="#c8c5d5" stroke="#8f8ba9" stroke-width="1.4"/>
<circle cx="432.5" cy="41.3" r="1.15" fill="#dedce6"/>
<circle cx="496.6" cy="43.3" r="2.82" fill="#c8c5d5" stroke="#8f8ba9" stroke-width="1.4"/>
<circle cx="496.6" cy="43.3" r="1.13" fill="#dedce6"/>
<circle cx="491.4" cy="13.9" r="2.79" fill="#c8c5d5" stroke="#8f8ba9" stroke-width="1.4"/>
<circle cx="491.4" cy="13.9" r="1.12" fill="#dedce6"/>
<circle cx="489.1" cy="55.7" r="2.10" fill="#c8c5d5" stroke="#615b88" stroke-width="1.4"/>
<circle cx="489.1" cy="55.7" r="0.90" fill="#dedce6"/>
<circle cx="450.1" cy="40.6" r="2.37" fill="#c8c5d5" stroke="#8f8ba9" stroke-width="1.4"/>
<circle cx="450.1" cy="40.6" r="0.98" fill="#dedce6"/>
<circle cx="443.1" cy="29.6" r="2.87" fill="#c8c5d5" stroke="#8f8ba9" stroke-width="1.4"/>
<circle cx="443.1" cy="29.6" r="1.14" fill="#dedce6"/>
<circle cx="460.0" cy="74.0" r="2.28" fill="#c8c5d5" stroke="#8f8ba9" stroke-width="1.4"/>
<circle cx="460.0" cy="74.0" r="0.95" fill="#dedce6"/>
<circle cx="500.5" cy="50.6" r="2.54" fill="#c8c5d5" stroke="#8f8ba9" stroke-width="1.4"/>
<circle cx="500.5" cy="50.6" r="1.04" fill="#dedce6"/>
<circle cx="445.8" cy="12.5" r="2.78" fill="#c8c5d5" stroke="#8f8ba9" stroke-width="1.4"/>
<circle cx="445.8" cy="12.5" r="1.12" fill="#dedce6"/>
<circle cx="463.6" cy="25.1" r="2.17" fill="#c8c5d5" stroke="#615b88" stroke-width="1.4"/>
<circle cx="463.6" cy="25.1" r="0.92" fill="#dedce6"/>
<circle cx="502.8" cy="43.0" r="2.65" fill="#c8c5d5" stroke="#8f8ba9" stroke-width="1.4"/>
<circle cx="502.8" cy="43.0" r="1.07" fill="#dedce6"/>
<circle cx="483.4" cy="30.8" r="2.42" fill="#c8c5d5" stroke="#8f8ba9" stroke-width="1.4"/>
<circle cx="483.4" cy="30.8" r="1.00" fill="#dedce6"/>
<circle cx="507.5" cy="32.8" r="2.39" fill="#c8c5d5" stroke="#8f8ba9" stroke-width="1.4"/>
<circle cx="507.5" cy="32.8" r="0.99" fill="#dedce6"/>
<circle cx="436.4" cy="47.3" r="2.51" fill="#c8c5d5" stroke="#8f8ba9" stroke-width="1.4"/>
<circle cx="436.4" cy="47.3" r="1.03" fill="#dedce6"/>
<circle cx="465.2" cy="36.8" r="2.86" fill="#c8c5d5" stroke="#615b88" stroke-width="1.4"/>
<circle cx="465.2" cy="36.8" r="1.14" fill="#dedce6"/>
<circle cx="492.4" cy="77.5" r="2.25" fill="#c8c5d5" stroke="#8f8ba9" stroke-width="1.4"/>
<circle cx="492.4" cy="77.5" r="0.95" fill="#dedce6"/>
<circle cx="484.9" cy="51.2" r="2.89" fill="#c8c5d5" stroke="#615b88" stroke-width="1.4"/>
<circle cx="484.9" cy="51.2" r="1.15" fill="#dedce6"/>
<circle cx="497.5" cy="77.5" r="2.10" fill="#c8c5d5" stroke="#8f8ba9" stroke-width="1.4"/>
<circle cx="497.5" cy="77.5" r="0.90" fill="#dedce6"/>
<circle cx="428.2" cy="76.3" r="2.20" fill="#c8c5d5" stroke="#8f8ba9" stroke-width="1.4"/>
<circle cx="428.2" cy="76.3" r="0.93" fill="#dedce6"/>
<circle cx="427.7" cy="36.7" r="2.21" fill="#c8c5d5" stroke="#8f8ba9" stroke-width="1.4"/>
<circle cx="427.7" cy="36.7" r="0.93" fill="#dedce6"/>
<circle cx="468.9" cy="50.1" r="2.78" fill="#c8c5d5" stroke="#8f8ba9" stroke-width="1.4"/>
<circle cx="468.9" cy="50.1" r="1.11" fill="#dedce6"/>
<circle cx="454.7" cy="69.3" r="2.41" fill="#c8c5d5" stroke="#8f8ba9" stroke-width="1.4"/>
<circle cx="454.7" cy="69.3" r="0.99" fill="#dedce6"/>
<circle cx="481.1" cy="68.4" r="2.47" fill="#c8c5d5" stroke="#8f8ba9" stroke-width="1.4"/>
<circle cx="481.1" cy="68.4" r="1.02" fill="#dedce6"/>
<circle cx="471.6" cy="77.8" r="2.47" fill="#c8c5d5" stroke="#8f8ba9" stroke-width="1.4"/>
<circle cx="471.6" cy="77.8" r="1.01" fill="#dedce6"/>
<circle cx="498.9" cy="23.7" r="2.37" fill="#c8c5d5" stroke="#8f8ba9" stroke-width="1.4"/>
<circle cx="498.9" cy="23.7" r="0.98" fill="#dedce6"/>
<circle cx="427.9" cy="58.9" r="2.56" fill="#c8c5d5" stroke="#8f8ba9" stroke-width="1.4"/>
<circle cx="427.9" cy="58.9" r="1.04" fill="#dedce6"/>
<circle cx="453.1" cy="19.2" r="2.26" fill="#c8c5d5" stroke="#8f8ba9" stroke-width="1.4"/>
<circle cx="453.1" cy="19.2" r="0.95" fill="#dedce6"/>
<circle cx="508.3" cy="39.9" r="2.82" fill="#c8c5d5" stroke="#8f8ba9" stroke-width="1.4"/>
<circle cx="508.3" cy="39.9" r="1.13" fill="#dedce6"/>
<circle cx="503.4" cy="28.7" r="2.14" fill="#c8c5d5" stroke="#8f8ba9" stroke-width="1.4"/>
<circle cx="503.4" cy="28.7" r="0.91" fill="#dedce6"/>
<circle cx="428.2" cy="24.6" r="2.19" fill="#c8c5d5" stroke="#8f8ba9" stroke-width="1.4"/>
<circle cx="428.2" cy="24.6" r="0.93" fill="#dedce6"/>
<circle cx="464.7" cy="45.2" r="2.13" fill="#c8c5d5" stroke="#8f8ba9" stroke-width="1.4"/>
<circle cx="464.7" cy="45.2" r="0.91" fill="#dedce6"/>
<circle cx="438.1" cy="59.9" r="2.35" fill="#c8c5d5" stroke="#8f8ba9" stroke-width="1.4"/>
<circle cx="438.1" cy="59.9" r="0.97" fill="#dedce6"/>
<circle cx="449.6" cy="53.4" r="2.4" fill="#a0505a" opacity="0.85"/>
<circle cx="453" cy="55" r="2.0" fill="#8a4a64" opacity="0.85"/>
<circle cx="446" cy="58.5" r="2.2" fill="#c8c6d6"/>
</g>
</g>
<rect x="346.3" y="91.5" width="77.2" height="63.2" fill="#dcd8dc"/>
<clipPath id="cp13"><rect x="346.3" y="91.5" width="77.2" height="63.2"/></clipPath><g clip-path="url(#cp13)"><g filter="url(#bl)">
<circle cx="365.3" cy="135.5" r="2.65" fill="#d5d1d6" stroke="#c2bdc3" stroke-width="1.4"/>
<circle cx="413.3" cy="102.0" r="2.28" fill="#d5d1d6" stroke="#c2bdc3" stroke-width="1.4"/>
<circle cx="356.2" cy="104.6" r="2.69" fill="#d5d1d6" stroke="#c2bdc3" stroke-width="1.4"/>
<circle cx="354.9" cy="125.2" r="2.27" fill="#d5d1d6" stroke="#c2bdc3" stroke-width="1.4"/>
<circle cx="368.2" cy="118.5" r="2.77" fill="#d5d1d6" stroke="#c2bdc3" stroke-width="1.4"/>
<circle cx="393.7" cy="90.5" r="2.32" fill="#d5d1d6" stroke="#c2bdc3" stroke-width="1.4"/>
<circle cx="356.2" cy="148.1" r="2.75" fill="#d5d1d6" stroke="#c2bdc3" stroke-width="1.4"/>
<circle cx="409.8" cy="145.0" r="2.70" fill="#d5d1d6" stroke="#c2bdc3" stroke-width="1.4"/>
<circle cx="421.4" cy="142.8" r="2.31" fill="#d5d1d6" stroke="#c2bdc3" stroke-width="1.4"/>
<circle cx="413.3" cy="122.2" r="2.70" fill="#d5d1d6" stroke="#c2bdc3" stroke-width="1.4"/>
<circle cx="390.1" cy="118.4" r="2.39" fill="#d5d1d6" stroke="#c2bdc3" stroke-width="1.4"/>
<circle cx="379.2" cy="110.6" r="2.19" fill="#d5d1d6" stroke="#c2bdc3" stroke-width="1.4"/>
<circle cx="400.4" cy="126.7" r="2.70" fill="#d5d1d6" stroke="#c2bdc3" stroke-width="1.4"/>
<circle cx="355.3" cy="135.0" r="2.45" fill="#d5d1d6" stroke="#c2bdc3" stroke-width="1.4"/>
<circle cx="376.4" cy="98.3" r="2.49" fill="#d5d1d6" stroke="#c2bdc3" stroke-width="1.4"/>
<circle cx="363.4" cy="105.3" r="2.26" fill="#d5d1d6" stroke="#c2bdc3" stroke-width="1.4"/>
<circle cx="421.7" cy="115.7" r="2.68" fill="#d5d1d6" stroke="#c2bdc3" stroke-width="1.4"/>
<circle cx="420.1" cy="92.4" r="2.21" fill="#d5d1d6" stroke="#c2bdc3" stroke-width="1.4"/>
<circle cx="357.3" cy="117.3" r="2.79" fill="#d5d1d6" stroke="#c2bdc3" stroke-width="1.4"/>
<circle cx="416.3" cy="143.5" r="2.26" fill="#d5d1d6" stroke="#c2bdc3" stroke-width="1.4"/>
<circle cx="413.6" cy="114.7" r="2.67" fill="#d5d1d6" stroke="#c2bdc3" stroke-width="1.4"/>
<circle cx="355.4" cy="154.8" r="2.58" fill="#d5d1d6" stroke="#c2bdc3" stroke-width="1.4"/>
<circle cx="403.0" cy="103.7" r="2.59" fill="#d5d1d6" stroke="#c2bdc3" stroke-width="1.4"/>
<circle cx="391.5" cy="129.2" r="2.39" fill="#d5d1d6" stroke="#c2bdc3" stroke-width="1.4"/>
<circle cx="403.4" cy="112.4" r="2.34" fill="#d5d1d6" stroke="#c2bdc3" stroke-width="1.4"/>
<circle cx="362.6" cy="94.1" r="2.61" fill="#d5d1d6" stroke="#c2bdc3" stroke-width="1.4"/>
<circle cx="344.5" cy="156.6" r="2.20" fill="#d5d1d6" stroke="#c2bdc3" stroke-width="1.4"/>
<circle cx="368.8" cy="107.6" r="2.58" fill="#d5d1d6" stroke="#c2bdc3" stroke-width="1.4"/>
<circle cx="350.6" cy="121.1" r="2.39" fill="#d5d1d6" stroke="#c2bdc3" stroke-width="1.4"/>
<circle cx="412.1" cy="89.9" r="2.37" fill="#d5d1d6" stroke="#c2bdc3" stroke-width="1.4"/>
<circle cx="384.6" cy="154.7" r="2.51" fill="#d5d1d6" stroke="#c2bdc3" stroke-width="1.4"/>
<circle cx="382.8" cy="134.5" r="2.34" fill="#d5d1d6" stroke="#c2bdc3" stroke-width="1.4"/>
<circle cx="360.9" cy="113.1" r="2.13" fill="#d5d1d6" stroke="#c2bdc3" stroke-width="1.4"/>
<circle cx="375.8" cy="91.7" r="2.20" fill="#d5d1d6" stroke="#c2bdc3" stroke-width="1.4"/>
<circle cx="344.7" cy="106.2" r="2.79" fill="#d5d1d6" stroke="#c2bdc3" stroke-width="1.4"/>
<circle cx="372.3" cy="143.4" r="2.27" fill="#d5d1d6" stroke="#c2bdc3" stroke-width="1.4"/>
<circle cx="402.6" cy="134.3" r="2.85" fill="#d5d1d6" stroke="#c2bdc3" stroke-width="1.4"/>
<circle cx="417.2" cy="97.3" r="2.21" fill="#d5d1d6" stroke="#c2bdc3" stroke-width="1.4"/>
<circle cx="387.6" cy="144.1" r="2.53" fill="#d5d1d6" stroke="#c2bdc3" stroke-width="1.4"/>
<circle cx="368.6" cy="154.1" r="2.34" fill="#d5d1d6" stroke="#c2bdc3" stroke-width="1.4"/>
<circle cx="351.4" cy="93.0" r="2.12" fill="#d5d1d6" stroke="#c2bdc3" stroke-width="1.4"/>
<circle cx="403.3" cy="96.7" r="2.67" fill="#d5d1d6" stroke="#c2bdc3" stroke-width="1.4"/>
<circle cx="414.6" cy="156.7" r="2.75" fill="#d5d1d6" stroke="#c2bdc3" stroke-width="1.4"/>
<circle cx="353.2" cy="110.2" r="2.90" fill="#d5d1d6" stroke="#c2bdc3" stroke-width="1.4"/>
<circle cx="380.9" cy="89.7" r="2.12" fill="#d5d1d6" stroke="#c2bdc3" stroke-width="1.4"/>
<circle cx="364.4" cy="146.6" r="2.78" fill="#d5d1d6" stroke="#c2bdc3" stroke-width="1.4"/>
<circle cx="378.1" cy="156.2" r="2.71" fill="#d5d1d6" stroke="#c2bdc3" stroke-width="1.4"/>
<circle cx="383.6" cy="107.1" r="2.47" fill="#d5d1d6" stroke="#c2bdc3" stroke-width="1.4"/>
<circle cx="417.5" cy="125.6" r="2.26" fill="#d5d1d6" stroke="#c2bdc3" stroke-width="1.4"/>
<circle cx="374.8" cy="121.5" r="2.25" fill="#d5d1d6" stroke="#c2bdc3" stroke-width="1.4"/>
<circle cx="364.1" cy="125.1" r="2.11" fill="#d5d1d6" stroke="#c2bdc3" stroke-width="1.4"/>
<circle cx="380.8" cy="140.6" r="2.37" fill="#d5d1d6" stroke="#c2bdc3" stroke-width="1.4"/>
<circle cx="393.8" cy="123.9" r="2.72" fill="#d5d1d6" stroke="#c2bdc3" stroke-width="1.4"/>
<circle cx="384.8" cy="127.9" r="2.43" fill="#d5d1d6" stroke="#c2bdc3" stroke-width="1.4"/>
<circle cx="371.8" cy="134.7" r="2.83" fill="#d5d1d6" stroke="#c2bdc3" stroke-width="1.4"/>
<circle cx="383.1" cy="117.3" r="2.75" fill="#d5d1d6" stroke="#c2bdc3" stroke-width="1.4"/>
<circle cx="408.0" cy="155.8" r="2.46" fill="#d5d1d6" stroke="#c2bdc3" stroke-width="1.4"/>
<circle cx="377.6" cy="127.4" r="2.70" fill="#d5d1d6" stroke="#c2bdc3" stroke-width="1.4"/>
<circle cx="350.8" cy="104.0" r="2.22" fill="#d5d1d6" stroke="#c2bdc3" stroke-width="1.4"/>
<circle cx="361.2" cy="152.2" r="2.34" fill="#d5d1d6" stroke="#c2bdc3" stroke-width="1.4"/>
<circle cx="353.5" cy="98.1" r="2.15" fill="#d5d1d6" stroke="#c2bdc3" stroke-width="1.4"/>
<circle cx="375.7" cy="103.8" r="2.23" fill="#d5d1d6" stroke="#c2bdc3" stroke-width="1.4"/>
<circle cx="345.6" cy="136.4" r="2.14" fill="#d5d1d6" stroke="#c2bdc3" stroke-width="1.4"/>
<circle cx="348.7" cy="131.2" r="2.52" fill="#d5d1d6" stroke="#c2bdc3" stroke-width="1.4"/>
<circle cx="401.6" cy="118.2" r="2.44" fill="#d5d1d6" stroke="#c2bdc3" stroke-width="1.4"/>
<circle cx="389.3" cy="150.4" r="2.32" fill="#d5d1d6" stroke="#c2bdc3" stroke-width="1.4"/>
<circle cx="369.1" cy="96.4" r="2.45" fill="#d5d1d6" stroke="#c2bdc3" stroke-width="1.4"/>
<circle cx="371.2" cy="113.9" r="2.10" fill="#d5d1d6" stroke="#c2bdc3" stroke-width="1.4"/>
<circle cx="405.3" cy="139.7" r="2.19" fill="#d5d1d6" stroke="#c2bdc3" stroke-width="1.4"/>
<circle cx="406.8" cy="122.6" r="2.54" fill="#d5d1d6" stroke="#c2bdc3" stroke-width="1.4"/>
<circle cx="410.7" cy="131.1" r="2.40" fill="#d5d1d6" stroke="#c2bdc3" stroke-width="1.4"/>
<circle cx="346.0" cy="142.6" r="2.37" fill="#d5d1d6" stroke="#c2bdc3" stroke-width="1.4"/>
<circle cx="404.7" cy="149.4" r="2.55" fill="#d5d1d6" stroke="#c2bdc3" stroke-width="1.4"/>
<circle cx="389.4" cy="102.2" r="2.29" fill="#d5d1d6" stroke="#c2bdc3" stroke-width="1.4"/>
<circle cx="347.8" cy="113.0" r="2.69" fill="#d5d1d6" stroke="#c2bdc3" stroke-width="1.4"/>
<circle cx="381.6" cy="146.5" r="2.23" fill="#d5d1d6" stroke="#c2bdc3" stroke-width="1.4"/>
<circle cx="385.6" cy="93.5" r="2.74" fill="#d5d1d6" stroke="#c2bdc3" stroke-width="1.4"/>
<circle cx="396.2" cy="105.6" r="2.19" fill="#d5d1d6" stroke="#c2bdc3" stroke-width="1.4"/>
<circle cx="422.5" cy="99.4" r="2.73" fill="#d5d1d6" stroke="#c2bdc3" stroke-width="1.4"/>
<circle cx="402.8" cy="90.7" r="2.55" fill="#d5d1d6" stroke="#c2bdc3" stroke-width="1.4"/>
<circle cx="416.4" cy="135.0" r="2.90" fill="#d5d1d6" stroke="#c2bdc3" stroke-width="1.4"/>
<circle cx="358.5" cy="98.9" r="2.29" fill="#d5d1d6" stroke="#c2bdc3" stroke-width="1.4"/>
<circle cx="398.2" cy="149.9" r="2.24" fill="#d5d1d6" stroke="#c2bdc3" stroke-width="1.4"/>
<circle cx="372.3" cy="149.1" r="2.71" fill="#d5d1d6" stroke="#c2bdc3" stroke-width="1.4"/>
<circle cx="423.4" cy="121.2" r="2.65" fill="#d5d1d6" stroke="#c2bdc3" stroke-width="1.4"/>
<circle cx="346.0" cy="100.7" r="2.36" fill="#d5d1d6" stroke="#c2bdc3" stroke-width="1.4"/>
<circle cx="379.2" cy="150.8" r="2.21" fill="#d5d1d6" stroke="#c2bdc3" stroke-width="1.4"/>
<circle cx="419.7" cy="106.9" r="2.33" fill="#d5d1d6" stroke="#c2bdc3" stroke-width="1.4"/>
<circle cx="422.3" cy="154.4" r="2.36" fill="#d5d1d6" stroke="#c2bdc3" stroke-width="1.4"/>
<circle cx="415.6" cy="150.8" r="2.49" fill="#d5d1d6" stroke="#c2bdc3" stroke-width="1.4"/>
<circle cx="394.8" cy="113.4" r="2.27" fill="#d5d1d6" stroke="#c2bdc3" stroke-width="1.4"/>
<circle cx="389.9" cy="111.5" r="2.16" fill="#d5d1d6" stroke="#c2bdc3" stroke-width="1.4"/>
<circle cx="396.7" cy="136.8" r="2.85" fill="#d5d1d6" stroke="#c2bdc3" stroke-width="1.4"/>
<circle cx="391.5" cy="139.5" r="2.50" fill="#d5d1d6" stroke="#c2bdc3" stroke-width="1.4"/>
<circle cx="424.8" cy="128.8" r="2.67" fill="#d5d1d6" stroke="#c2bdc3" stroke-width="1.4"/>
<circle cx="424.2" cy="110.2" r="2.37" fill="#d5d1d6" stroke="#c2bdc3" stroke-width="1.4"/>
<circle cx="345.3" cy="92.9" r="2.30" fill="#d5d1d6" stroke="#c2bdc3" stroke-width="1.4"/>
<circle cx="347.9" cy="147.6" r="2.22" fill="#d5d1d6" stroke="#c2bdc3" stroke-width="1.4"/>
<circle cx="410.2" cy="97.1" r="2.10" fill="#d5d1d6" stroke="#c2bdc3" stroke-width="1.4"/>
<circle cx="410.1" cy="109.5" r="2.55" fill="#d5d1d6" stroke="#c2bdc3" stroke-width="1.4"/>
<circle cx="369.2" cy="128.6" r="2.56" fill="#d5d1d6" stroke="#c2bdc3" stroke-width="1.4"/>
<circle cx="410.9" cy="136.3" r="2.27" fill="#d5d1d6" stroke="#c2bdc3" stroke-width="1.4"/>
<circle cx="401.6" cy="154.2" r="2.44" fill="#d5d1d6" stroke="#c2bdc3" stroke-width="1.4"/>
<circle cx="384.0" cy="99.2" r="2.62" fill="#d5d1d6" stroke="#c2bdc3" stroke-width="1.4"/>
<circle cx="352.4" cy="141.1" r="2.65" fill="#d5d1d6" stroke="#c2bdc3" stroke-width="1.4"/>
<circle cx="362.5" cy="120.2" r="2.12" fill="#d5d1d6" stroke="#c2bdc3" stroke-width="1.4"/>
<circle cx="396.9" cy="94.3" r="2.21" fill="#d5d1d6" stroke="#c2bdc3" stroke-width="1.4"/>
<circle cx="393.0" cy="146.9" r="2.10" fill="#d5d1d6" stroke="#c2bdc3" stroke-width="1.4"/>
<circle cx="344.4" cy="118.8" r="2.38" fill="#d5d1d6" stroke="#c2bdc3" stroke-width="1.4"/>
<circle cx="360.4" cy="130.8" r="2.54" fill="#d5d1d6" stroke="#c2bdc3" stroke-width="1.4"/>
<circle cx="360.2" cy="140.2" r="2.81" fill="#d5d1d6" stroke="#c2bdc3" stroke-width="1.4"/>
<circle cx="373.8" cy="109.1" r="2.12" fill="#d5d1d6" stroke="#c2bdc3" stroke-width="1.4"/>
<circle cx="370.6" cy="102.1" r="2.20" fill="#d5d1d6" stroke="#c2bdc3" stroke-width="1.4"/>
<circle cx="399.8" cy="142.9" r="2.26" fill="#d5d1d6" stroke="#c2bdc3" stroke-width="1.4"/>
<circle cx="424.6" cy="89.5" r="2.43" fill="#d5d1d6" stroke="#c2bdc3" stroke-width="1.4"/>
<circle cx="390.5" cy="134.3" r="2.37" fill="#d5d1d6" stroke="#c2bdc3" stroke-width="1.4"/>
<circle cx="422.7" cy="135.5" r="2.69" fill="#d5d1d6" stroke="#c2bdc3" stroke-width="1.4"/>
<circle cx="370.3" cy="90.3" r="2.81" fill="#d5d1d6" stroke="#c2bdc3" stroke-width="1.4"/>
<circle cx="393.2" cy="156.3" r="2.46" fill="#d5d1d6" stroke="#c2bdc3" stroke-width="1.4"/>
<circle cx="424.0" cy="149.4" r="2.22" fill="#d5d1d6" stroke="#c2bdc3" stroke-width="1.4"/>
<circle cx="398.6" cy="100.9" r="2.13" fill="#d5d1d6" stroke="#c2bdc3" stroke-width="1.4"/>
<circle cx="377.1" cy="116.4" r="2.21" fill="#d5d1d6" stroke="#c2bdc3" stroke-width="1.4"/>
<circle cx="356.9" cy="89.8" r="2.36" fill="#d5d1d6" stroke="#c2bdc3" stroke-width="1.4"/>
<circle cx="345.1" cy="124.8" r="2.63" fill="#d5d1d6" stroke="#c2bdc3" stroke-width="1.4"/>
<circle cx="350.2" cy="156.6" r="2.34" fill="#d5d1d6" stroke="#c2bdc3" stroke-width="1.4"/>
</g>
<g filter="url(#bl2)">
<ellipse cx="377.4" cy="98" rx="4.4" ry="3.8" fill="#d4a8d8" opacity="0.85"/>
<circle cx="377.79999999999995" cy="98" r="2.0" fill="#a872b4" opacity="0.9"/>
<ellipse cx="419.6" cy="123.4" rx="4.4" ry="3.8" fill="#d4a8d8" opacity="0.85"/>
<circle cx="420.0" cy="123.4" r="2.0" fill="#a872b4" opacity="0.9"/>
<ellipse cx="350.4" cy="135.2" rx="4.4" ry="3.8" fill="#d4a8d8" opacity="0.85"/>
<circle cx="350.79999999999995" cy="135.2" r="2.0" fill="#a872b4" opacity="0.9"/>
<ellipse cx="404" cy="142.1" rx="4.4" ry="3.8" fill="#d4a8d8" opacity="0.85"/>
<circle cx="404.4" cy="142.1" r="2.0" fill="#a872b4" opacity="0.9"/>
</g>
</g>
<line x1="405" y1="73.3" x2="419" y2="73.3" stroke="#333" stroke-width="1.1"/>
<line x1="489" y1="73.3" x2="503" y2="73.3" stroke="#333" stroke-width="1.1"/>
<line x1="405.8" y1="151" x2="421" y2="151" stroke="#333" stroke-width="1.1"/>
<line x1="356.5" y1="32.5" x2="359.1314767032909" y2="30.1609095970748" stroke="#111" stroke-width="1.1"/>
<path d="M361.00,28.50 L360.02,31.91 L357.50,29.07 Z" fill="#111"/>
<line x1="452" y1="25.5" x2="455.04782797639245" y2="23.06173761888606" stroke="#111" stroke-width="1.1"/>
<path d="M457.00,21.50 L455.84,24.86 L453.47,21.89 Z" fill="#111"/>
<line x1="437" y1="70" x2="439.6314767032909" y2="67.66090959707479" stroke="#222" stroke-width="1.1"/>
<path d="M441.50,66.00 L440.52,69.41 L438.00,66.57 Z" fill="#222"/>
<line x1="368.4" y1="104.2" x2="371.2990658045165" y2="101.72371462530879" stroke="#111" stroke-width="1.1"/>
<path d="M373.20,100.10 L372.15,103.49 L369.68,100.60 Z" fill="#111"/>
<line x1="411" y1="131" x2="414.30957829384306" y2="128.13594186109736" stroke="#111" stroke-width="1.1"/>
<path d="M416.20,126.50 L415.17,129.90 L412.69,127.03 Z" fill="#111"/>
<line x1="358.3" y1="143.2" x2="355.464140251543" y2="140.66582745882562" stroke="#111" stroke-width="1.1"/>
<path d="M353.60,139.00 L357.10,139.58 L354.57,142.42 Z" fill="#111"/>
<line x1="397" y1="150.8" x2="399.71248332746734" y2="148.14779407980973" stroke="#111" stroke-width="1.1"/>
<path d="M401.50,146.40 L400.68,149.86 L398.03,147.14 Z" fill="#111"/>
<line x1="386" y1="17.5" x2="383.88144173676716" y2="19.353738480328705" stroke="#d08a40" stroke-width="1.1"/>
<path d="M382.00,21.00 L383.01,17.59 L385.51,20.45 Z" fill="#d08a40"/>
<line x1="349.5" y1="63.5" x2="351.61855826323284" y2="65.3537384803287" stroke="#d08a40" stroke-width="1.1"/>
<path d="M353.50,67.00 L349.99,66.45 L352.49,63.59 Z" fill="#d08a40"/>
<line x1="378" y1="66" x2="380.11855826323284" y2="67.8537384803287" stroke="#d08a40" stroke-width="1.1"/>
<path d="M382.00,69.50 L378.49,68.95 L380.99,66.09 Z" fill="#d08a40"/>
<line x1="449" y1="62" x2="451.11855826323284" y2="63.85373848032871" stroke="#d08a40" stroke-width="1.1"/>
<path d="M453.00,65.50 L449.49,64.95 L451.99,62.09 Z" fill="#d08a40"/>
<text x="384.6" y="85.3" font-size="8.4" text-anchor="middle" fill="#333333" font-weight="normal" textLength="19.5" lengthAdjust="spacingAndGlyphs" >A II.1</text>
<text x="468.2" y="85.4" font-size="8.4" text-anchor="middle" fill="#333333" font-weight="normal" textLength="19.7" lengthAdjust="spacingAndGlyphs" >A II.4</text>
<text x="384.8" y="164.0" font-size="8.4" text-anchor="middle" fill="#333333" font-weight="normal" textLength="19" lengthAdjust="spacingAndGlyphs" >B II.2</text>
<rect x="45.90" y="230.96" width="4.0" height="55.04" fill="#d1c0d5"/>
<rect x="51.40" y="232.62" width="4.0" height="53.38" fill="#a487a9"/>
<rect x="56.90" y="244.86" width="4.0" height="41.14" fill="#55175f"/>
<rect x="62.40" y="262.09" width="4.0" height="23.91" fill="#3aa93a"/>
<rect x="67.90" y="264.32" width="4.0" height="21.68" fill="#c40c2c"/>
<rect x="77.10" y="230.96" width="4.0" height="55.04" fill="#d1c0d5"/>
<rect x="82.60" y="238.74" width="4.0" height="47.26" fill="#a487a9"/>
<rect x="88.10" y="248.19" width="4.0" height="37.81" fill="#55175f"/>
<rect x="93.60" y="266.26" width="4.0" height="19.74" fill="#3aa93a"/>
<rect x="99.10" y="264.87" width="4.0" height="21.13" fill="#c40c2c"/>
<rect x="108.30" y="230.96" width="4.0" height="55.04" fill="#d1c0d5"/>
<rect x="113.80" y="232.07" width="4.0" height="53.93" fill="#a487a9"/>
<rect x="119.30" y="223.73" width="4.0" height="62.27" fill="#55175f"/>
<rect x="124.80" y="238.74" width="4.0" height="47.26" fill="#3aa93a"/>
<rect x="130.30" y="244.58" width="4.0" height="41.42" fill="#c40c2c"/>
<rect x="139.50" y="231.23" width="4.0" height="54.77" fill="#d1c0d5"/>
<rect x="145.00" y="243.19" width="4.0" height="42.81" fill="#a487a9"/>
<rect x="150.50" y="242.91" width="4.0" height="43.09" fill="#55175f"/>
<rect x="156.00" y="222.62" width="4.0" height="63.38" fill="#3aa93a"/>
<rect x="161.50" y="241.80" width="4.0" height="44.20" fill="#c40c2c"/>
<line x1="40.5" y1="199.6" x2="40.5" y2="286.6" stroke="#1a1a1a" stroke-width="1.25"/>
<line x1="37.7" y1="286" x2="166.5" y2="286" stroke="#1a1a1a" stroke-width="1.25"/>
<line x1="37.5" y1="286.0" x2="40.5" y2="286.0" stroke="#1a1a1a" stroke-width="1.1"/>
<text x="34.9" y="289.0" font-size="8.6" text-anchor="end" fill="#333333" font-weight="normal" textLength="11.4" lengthAdjust="spacingAndGlyphs" >0.0</text>
<line x1="37.5" y1="258.2" x2="40.5" y2="258.2" stroke="#1a1a1a" stroke-width="1.1"/>
<text x="34.9" y="261.2" font-size="8.6" text-anchor="end" fill="#333333" font-weight="normal" textLength="11.4" lengthAdjust="spacingAndGlyphs" >0.5</text>
<line x1="37.5" y1="230.4" x2="40.5" y2="230.4" stroke="#1a1a1a" stroke-width="1.1"/>
<text x="34.9" y="233.4" font-size="8.6" text-anchor="end" fill="#333333" font-weight="normal" textLength="11.4" lengthAdjust="spacingAndGlyphs" >1.0</text>
<line x1="37.5" y1="202.6" x2="40.5" y2="202.6" stroke="#1a1a1a" stroke-width="1.1"/>
<text x="34.9" y="205.6" font-size="8.6" text-anchor="end" fill="#333333" font-weight="normal" textLength="11.4" lengthAdjust="spacingAndGlyphs" >1.5</text>
<text transform="translate(16.8,242.5) rotate(-90)" font-size="9.4" text-anchor="middle" fill="#333333" stroke="#333333" stroke-width="0.22" textLength="64" lengthAdjust="spacingAndGlyphs">Relative MFI (a.u.)</text>
<text transform="translate(60.9,293.6) rotate(-45)" font-size="9.2" text-anchor="end" fill="#333333" textLength="18.8" lengthAdjust="spacingAndGlyphs">GPIX</text>
<text transform="translate(91.7,293.6) rotate(-45)" font-size="9.2" text-anchor="end" fill="#333333" textLength="23" lengthAdjust="spacingAndGlyphs">GPIb<tspan font-size="6">α</tspan></text>
<text transform="translate(124.3,293.6) rotate(-45)" font-size="9.2" text-anchor="end" fill="#333333" textLength="19" lengthAdjust="spacingAndGlyphs">GPVI</text>
<text transform="translate(153.9,293.6) rotate(-45)" font-size="9.2" text-anchor="end" fill="#333333" textLength="9" lengthAdjust="spacingAndGlyphs">β3</text>
<rect x="45.90" y="386.02" width="4.0" height="53.98" fill="#d1c0d5"/>
<rect x="51.45" y="388.76" width="4.0" height="51.24" fill="#a487a9"/>
<rect x="57.00" y="388.76" width="4.0" height="51.24" fill="#55175f"/>
<rect x="62.55" y="413.97" width="4.0" height="26.03" fill="#1c4a7e"/>
<rect x="71.70" y="386.02" width="4.0" height="53.98" fill="#d1c0d5"/>
<rect x="77.25" y="387.12" width="4.0" height="52.88" fill="#a487a9"/>
<rect x="82.80" y="388.76" width="4.0" height="51.24" fill="#55175f"/>
<rect x="88.35" y="415.34" width="4.0" height="24.66" fill="#1c4a7e"/>
<rect x="97.50" y="386.02" width="4.0" height="53.98" fill="#d1c0d5"/>
<rect x="103.05" y="386.57" width="4.0" height="53.43" fill="#a487a9"/>
<rect x="108.60" y="382.46" width="4.0" height="57.54" fill="#55175f"/>
<rect x="114.15" y="384.93" width="4.0" height="55.07" fill="#1c4a7e"/>
<rect x="123.30" y="386.02" width="4.0" height="53.98" fill="#d1c0d5"/>
<rect x="128.85" y="391.50" width="4.0" height="48.50" fill="#a487a9"/>
<rect x="134.40" y="397.53" width="4.0" height="42.47" fill="#55175f"/>
<rect x="139.95" y="398.08" width="4.0" height="41.92" fill="#1c4a7e"/>
<line x1="40.5" y1="355.2" x2="40.5" y2="440.6" stroke="#1a1a1a" stroke-width="1.25"/>
<line x1="37.7" y1="440" x2="143.7" y2="440" stroke="#1a1a1a" stroke-width="1.25"/>
<line x1="37.5" y1="440.0" x2="40.5" y2="440.0" stroke="#1a1a1a" stroke-width="1.1"/>
<text x="34.9" y="443.0" font-size="8.6" text-anchor="end" fill="#333333" font-weight="normal" textLength="11.4" lengthAdjust="spacingAndGlyphs" >0.0</text>
<line x1="37.5" y1="412.6" x2="40.5" y2="412.6" stroke="#1a1a1a" stroke-width="1.1"/>
<text x="34.9" y="415.6" font-size="8.6" text-anchor="end" fill="#333333" font-weight="normal" textLength="11.4" lengthAdjust="spacingAndGlyphs" >0.5</text>
<line x1="37.5" y1="385.2" x2="40.5" y2="385.2" stroke="#1a1a1a" stroke-width="1.1"/>
<text x="34.9" y="388.2" font-size="8.6" text-anchor="end" fill="#333333" font-weight="normal" textLength="11.4" lengthAdjust="spacingAndGlyphs" >1.0</text>
<line x1="37.5" y1="357.8" x2="40.5" y2="357.8" stroke="#1a1a1a" stroke-width="1.1"/>
<text x="34.9" y="360.8" font-size="8.6" text-anchor="end" fill="#333333" font-weight="normal" textLength="11.4" lengthAdjust="spacingAndGlyphs" >1.5</text>
<text transform="translate(16.8,397) rotate(-90)" font-size="9.4" text-anchor="middle" fill="#333333" stroke="#333333" stroke-width="0.22" textLength="64" lengthAdjust="spacingAndGlyphs">Relative MFI (a.u.)</text>
<text transform="translate(58.5,447.8) rotate(-45)" font-size="9.2" text-anchor="end" fill="#333333" textLength="18.8" lengthAdjust="spacingAndGlyphs">GPIX</text>
<text transform="translate(81.6,447.8) rotate(-45)" font-size="9.2" text-anchor="end" fill="#333333" textLength="23" lengthAdjust="spacingAndGlyphs">GPIb<tspan font-size="6">α</tspan></text>
<text transform="translate(109.2,447.8) rotate(-45)" font-size="9.2" text-anchor="end" fill="#333333" textLength="19" lengthAdjust="spacingAndGlyphs">GPVI</text>
<text transform="translate(136.9,447.8) rotate(-45)" font-size="9.2" text-anchor="end" fill="#333333" textLength="9" lengthAdjust="spacingAndGlyphs">β3</text>
<rect x="221.90" y="281.60" width="3.8" height="4.30" fill="#d1c0d5"/>
<rect x="227.42" y="281.60" width="3.8" height="4.30" fill="#a487a9"/>
<rect x="232.94" y="282.46" width="3.8" height="3.44" fill="#55175f"/>
<rect x="238.46" y="279.36" width="3.8" height="6.54" fill="#3aa93a"/>
<rect x="243.98" y="280.40" width="3.8" height="5.50" fill="#c40c2c"/>
<rect x="253.00" y="233.87" width="3.8" height="52.03" fill="#d1c0d5"/>
<rect x="258.52" y="254.94" width="3.8" height="30.96" fill="#a487a9"/>
<rect x="264.04" y="238.60" width="3.8" height="47.30" fill="#55175f"/>
<rect x="269.56" y="277.30" width="3.8" height="8.60" fill="#3aa93a"/>
<rect x="275.08" y="279.02" width="3.8" height="6.88" fill="#c40c2c"/>
<rect x="284.10" y="269.65" width="3.8" height="16.25" fill="#d1c0d5"/>
<rect x="289.62" y="273.77" width="3.8" height="12.13" fill="#a487a9"/>
<rect x="295.14" y="265.86" width="3.8" height="20.04" fill="#55175f"/>
<rect x="300.66" y="274.72" width="3.8" height="11.18" fill="#3aa93a"/>
<rect x="306.18" y="277.47" width="3.8" height="8.43" fill="#c40c2c"/>
<rect x="315.20" y="203.86" width="3.8" height="82.04" fill="#d1c0d5"/>
<rect x="320.72" y="203.17" width="3.8" height="82.73" fill="#a487a9"/>
<rect x="326.24" y="211.77" width="3.8" height="74.13" fill="#55175f"/>
<rect x="331.76" y="274.72" width="3.8" height="11.18" fill="#3aa93a"/>
<rect x="337.28" y="279.02" width="3.8" height="6.88" fill="#c40c2c"/>
<line x1="218.5" y1="197" x2="218.5" y2="286.5" stroke="#1a1a1a" stroke-width="1.25"/>
<line x1="215.7" y1="285.9" x2="342" y2="285.9" stroke="#1a1a1a" stroke-width="1.25"/>
<line x1="215.5" y1="285.9" x2="218.5" y2="285.9" stroke="#1a1a1a" stroke-width="1.1"/>
<text x="211.9" y="288.9" font-size="8.6" text-anchor="end" fill="#333333" font-weight="normal" textLength="4.8" lengthAdjust="spacingAndGlyphs" >0</text>
<line x1="215.5" y1="268.7" x2="218.5" y2="268.7" stroke="#1a1a1a" stroke-width="1.1"/>
<text x="211.9" y="271.7" font-size="8.6" text-anchor="end" fill="#333333" font-weight="normal" textLength="9.1" lengthAdjust="spacingAndGlyphs" >20</text>
<line x1="215.5" y1="251.49999999999997" x2="218.5" y2="251.49999999999997" stroke="#1a1a1a" stroke-width="1.1"/>
<text x="211.9" y="254.49999999999997" font-size="8.6" text-anchor="end" fill="#333333" font-weight="normal" textLength="9.1" lengthAdjust="spacingAndGlyphs" >40</text>
<line x1="215.5" y1="234.29999999999998" x2="218.5" y2="234.29999999999998" stroke="#1a1a1a" stroke-width="1.1"/>
<text x="211.9" y="237.29999999999998" font-size="8.6" text-anchor="end" fill="#333333" font-weight="normal" textLength="9.1" lengthAdjust="spacingAndGlyphs" >60</text>
<line x1="215.5" y1="217.09999999999997" x2="218.5" y2="217.09999999999997" stroke="#1a1a1a" stroke-width="1.1"/>
<text x="211.9" y="220.09999999999997" font-size="8.6" text-anchor="end" fill="#333333" font-weight="normal" textLength="9.1" lengthAdjust="spacingAndGlyphs" >80</text>
<line x1="215.5" y1="199.89999999999998" x2="218.5" y2="199.89999999999998" stroke="#1a1a1a" stroke-width="1.1"/>
<text x="211.9" y="202.89999999999998" font-size="8.6" text-anchor="end" fill="#333333" font-weight="normal" textLength="12.9" lengthAdjust="spacingAndGlyphs" >100</text>
<text transform="translate(192.6,241.5) rotate(-90)" font-size="9.4" text-anchor="middle" fill="#333333" stroke="#333333" stroke-width="0.22" textLength="66.5" lengthAdjust="spacingAndGlyphs">% CD62+ platelets</text>
<text transform="translate(236.7,294.3) rotate(-45)" font-size="9.2" text-anchor="end" fill="#333333" textLength="13.2" lengthAdjust="spacingAndGlyphs">PBS</text>
<text transform="translate(263.9,294.3) rotate(-45)" font-size="9.2" text-anchor="end" fill="#333333" textLength="41" lengthAdjust="spacingAndGlyphs">ADP 10 μM</text>
<text transform="translate(295.7,294.3) rotate(-45)" font-size="9.2" text-anchor="end" fill="#333333" textLength="53.2" lengthAdjust="spacingAndGlyphs">CRP 10 μg/mL</text>
<text transform="translate(326.5,294.3) rotate(-45)" font-size="9.2" text-anchor="end" fill="#333333" textLength="51.3" lengthAdjust="spacingAndGlyphs">TRAP6 25 μM</text>
<rect x="222.10" y="435.51" width="3.8" height="4.39" fill="#d1c0d5"/>
<rect x="227.62" y="436.12" width="3.8" height="3.78" fill="#a487a9"/>
<rect x="233.14" y="439.29" width="3.8" height="0.61" fill="#55175f"/>
<rect x="238.66" y="435.69" width="3.8" height="4.21" fill="#1c4a7e"/>
<rect x="248.30" y="388.98" width="3.8" height="50.92" fill="#d1c0d5"/>
<rect x="253.82" y="395.12" width="3.8" height="44.78" fill="#a487a9"/>
<rect x="259.34" y="399.07" width="3.8" height="40.83" fill="#55175f"/>
<rect x="264.86" y="407.77" width="3.8" height="32.13" fill="#1c4a7e"/>
<rect x="274.50" y="410.05" width="3.8" height="29.85" fill="#d1c0d5"/>
<rect x="280.02" y="416.19" width="3.8" height="23.71" fill="#a487a9"/>
<rect x="285.54" y="412.33" width="3.8" height="27.57" fill="#55175f"/>
<rect x="291.06" y="427.17" width="3.8" height="12.73" fill="#1c4a7e"/>
<rect x="300.70" y="354.73" width="3.8" height="85.17" fill="#d1c0d5"/>
<rect x="306.22" y="356.05" width="3.8" height="83.85" fill="#a487a9"/>
<rect x="311.74" y="355.44" width="3.8" height="84.46" fill="#55175f"/>
<rect x="317.26" y="408.29" width="3.8" height="31.61" fill="#1c4a7e"/>
<line x1="218.5" y1="349.1" x2="218.5" y2="440.5" stroke="#1a1a1a" stroke-width="1.25"/>
<line x1="215.7" y1="439.9" x2="322" y2="439.9" stroke="#1a1a1a" stroke-width="1.25"/>
<line x1="215.5" y1="439.9" x2="218.5" y2="439.9" stroke="#1a1a1a" stroke-width="1.1"/>
<text x="211.9" y="442.9" font-size="8.6" text-anchor="end" fill="#333333" font-weight="normal" textLength="4.8" lengthAdjust="spacingAndGlyphs" >0</text>
<line x1="215.5" y1="422.34" x2="218.5" y2="422.34" stroke="#1a1a1a" stroke-width="1.1"/>
<text x="211.9" y="425.34" font-size="8.6" text-anchor="end" fill="#333333" font-weight="normal" textLength="9.1" lengthAdjust="spacingAndGlyphs" >20</text>
<line x1="215.5" y1="404.78" x2="218.5" y2="404.78" stroke="#1a1a1a" stroke-width="1.1"/>
<text x="211.9" y="407.78" font-size="8.6" text-anchor="end" fill="#333333" font-weight="normal" textLength="9.1" lengthAdjust="spacingAndGlyphs" >40</text>
<line x1="215.5" y1="387.21999999999997" x2="218.5" y2="387.21999999999997" stroke="#1a1a1a" stroke-width="1.1"/>
<text x="211.9" y="390.21999999999997" font-size="8.6" text-anchor="end" fill="#333333" font-weight="normal" textLength="9.1" lengthAdjust="spacingAndGlyphs" >60</text>
<line x1="215.5" y1="369.65999999999997" x2="218.5" y2="369.65999999999997" stroke="#1a1a1a" stroke-width="1.1"/>
<text x="211.9" y="372.65999999999997" font-size="8.6" text-anchor="end" fill="#333333" font-weight="normal" textLength="9.1" lengthAdjust="spacingAndGlyphs" >80</text>
<line x1="215.5" y1="352.09999999999997" x2="218.5" y2="352.09999999999997" stroke="#1a1a1a" stroke-width="1.1"/>
<text x="211.9" y="355.09999999999997" font-size="8.6" text-anchor="end" fill="#333333" font-weight="normal" textLength="12.9" lengthAdjust="spacingAndGlyphs" >100</text>
<text transform="translate(192.6,394.5) rotate(-90)" font-size="9.4" text-anchor="middle" fill="#333333" stroke="#333333" stroke-width="0.22" textLength="66.5" lengthAdjust="spacingAndGlyphs">% CD62+ platelets</text>
<text transform="translate(233.7,448.5) rotate(-45)" font-size="9.2" text-anchor="end" fill="#333333" textLength="13.2" lengthAdjust="spacingAndGlyphs">PBS</text>
<text transform="translate(256.3,448.5) rotate(-45)" font-size="9.2" text-anchor="end" fill="#333333" textLength="41" lengthAdjust="spacingAndGlyphs">ADP 10 μM</text>
<text transform="translate(283.1,448.5) rotate(-45)" font-size="9.2" text-anchor="end" fill="#333333" textLength="53.2" lengthAdjust="spacingAndGlyphs">CRP 10 μg/mL</text>
<text transform="translate(308.4,448.5) rotate(-45)" font-size="9.2" text-anchor="end" fill="#333333" textLength="51.3" lengthAdjust="spacingAndGlyphs">TRAP6 25 μM</text>
<rect x="397.30" y="285.11" width="3.8" height="0.69" fill="#d1c0d5"/>
<rect x="402.80" y="285.11" width="3.8" height="0.69" fill="#a487a9"/>
<rect x="408.30" y="284.77" width="3.8" height="1.03" fill="#55175f"/>
<rect x="413.80" y="285.20" width="3.8" height="0.60" fill="#3aa93a"/>
<rect x="419.30" y="285.20" width="3.8" height="0.60" fill="#c40c2c"/>
<rect x="429.10" y="274.10" width="3.8" height="11.70" fill="#d1c0d5"/>
<rect x="434.60" y="269.55" width="3.8" height="16.25" fill="#a487a9"/>
<rect x="440.10" y="265.25" width="3.8" height="20.55" fill="#55175f"/>
<rect x="445.60" y="284.08" width="3.8" height="1.72" fill="#3aa93a"/>
<rect x="451.10" y="284.94" width="3.8" height="0.86" fill="#c40c2c"/>
<rect x="460.90" y="275.14" width="3.8" height="10.66" fill="#d1c0d5"/>
<rect x="466.40" y="276.86" width="3.8" height="8.94" fill="#a487a9"/>
<rect x="471.90" y="279.69" width="3.8" height="6.11" fill="#55175f"/>
<rect x="477.40" y="283.22" width="3.8" height="2.58" fill="#3aa93a"/>
<rect x="482.90" y="284.94" width="3.8" height="0.86" fill="#c40c2c"/>
<rect x="492.70" y="222.85" width="3.8" height="62.95" fill="#d1c0d5"/>
<rect x="498.20" y="216.83" width="3.8" height="68.97" fill="#a487a9"/>
<rect x="503.70" y="222.33" width="3.8" height="63.47" fill="#55175f"/>
<rect x="509.20" y="276.86" width="3.8" height="8.94" fill="#3aa93a"/>
<rect x="514.70" y="276.86" width="3.8" height="8.94" fill="#c40c2c"/>
<line x1="394.4" y1="196.9" x2="394.4" y2="286.40000000000003" stroke="#1a1a1a" stroke-width="1.25"/>
<line x1="391.59999999999997" y1="285.8" x2="520" y2="285.8" stroke="#1a1a1a" stroke-width="1.25"/>
<line x1="391.4" y1="285.8" x2="394.4" y2="285.8" stroke="#1a1a1a" stroke-width="1.1"/>
<text x="388.2" y="288.8" font-size="8.6" text-anchor="end" fill="#333333" font-weight="normal" textLength="4.8" lengthAdjust="spacingAndGlyphs" >0</text>
<line x1="391.4" y1="268.6" x2="394.4" y2="268.6" stroke="#1a1a1a" stroke-width="1.1"/>
<text x="388.2" y="271.6" font-size="8.6" text-anchor="end" fill="#333333" font-weight="normal" textLength="9.1" lengthAdjust="spacingAndGlyphs" >20</text>
<line x1="391.4" y1="251.4" x2="394.4" y2="251.4" stroke="#1a1a1a" stroke-width="1.1"/>
<text x="388.2" y="254.4" font-size="8.6" text-anchor="end" fill="#333333" font-weight="normal" textLength="9.1" lengthAdjust="spacingAndGlyphs" >40</text>
<line x1="391.4" y1="234.20000000000002" x2="394.4" y2="234.20000000000002" stroke="#1a1a1a" stroke-width="1.1"/>
<text x="388.2" y="237.20000000000002" font-size="8.6" text-anchor="end" fill="#333333" font-weight="normal" textLength="9.1" lengthAdjust="spacingAndGlyphs" >60</text>
<line x1="391.4" y1="217.0" x2="394.4" y2="217.0" stroke="#1a1a1a" stroke-width="1.1"/>
<text x="388.2" y="220.0" font-size="8.6" text-anchor="end" fill="#333333" font-weight="normal" textLength="9.1" lengthAdjust="spacingAndGlyphs" >80</text>
<line x1="391.4" y1="199.8" x2="394.4" y2="199.8" stroke="#1a1a1a" stroke-width="1.1"/>
<text x="388.2" y="202.8" font-size="8.6" text-anchor="end" fill="#333333" font-weight="normal" textLength="12.9" lengthAdjust="spacingAndGlyphs" >100</text>
<text transform="translate(368,240.5) rotate(-90)" font-size="9.4" text-anchor="middle" fill="#333333" stroke="#333333" stroke-width="0.22" textLength="66.5" lengthAdjust="spacingAndGlyphs">% CD63+ platelets</text>
<text transform="translate(411.7,294.6) rotate(-45)" font-size="9.2" text-anchor="end" fill="#333333" textLength="13.2" lengthAdjust="spacingAndGlyphs">PBS</text>
<text transform="translate(440.4,294.6) rotate(-45)" font-size="9.2" text-anchor="end" fill="#333333" textLength="41" lengthAdjust="spacingAndGlyphs">ADP 10 μM</text>
<text transform="translate(472.9,294.6) rotate(-45)" font-size="9.2" text-anchor="end" fill="#333333" textLength="53.2" lengthAdjust="spacingAndGlyphs">CRP 10 μg/mL</text>
<text transform="translate(504.2,294.6) rotate(-45)" font-size="9.2" text-anchor="end" fill="#333333" textLength="51.3" lengthAdjust="spacingAndGlyphs">TRAP6 25 μM</text>
<rect x="398.40" y="439.10" width="3.8" height="0.70" fill="#d1c0d5"/>
<rect x="403.92" y="439.10" width="3.8" height="0.70" fill="#a487a9"/>
<rect x="409.44" y="439.10" width="3.8" height="0.70" fill="#55175f"/>
<rect x="414.96" y="439.10" width="3.8" height="0.70" fill="#1c4a7e"/>
<rect x="424.95" y="421.54" width="3.8" height="18.26" fill="#d1c0d5"/>
<rect x="430.47" y="420.48" width="3.8" height="19.32" fill="#a487a9"/>
<rect x="435.99" y="425.23" width="3.8" height="14.57" fill="#55175f"/>
<rect x="441.51" y="435.23" width="3.8" height="4.57" fill="#1c4a7e"/>
<rect x="451.50" y="427.07" width="3.8" height="12.73" fill="#d1c0d5"/>
<rect x="457.02" y="429.26" width="3.8" height="10.54" fill="#a487a9"/>
<rect x="462.54" y="431.90" width="3.8" height="7.90" fill="#55175f"/>
<rect x="468.06" y="433.65" width="3.8" height="6.15" fill="#1c4a7e"/>
<rect x="478.05" y="381.33" width="3.8" height="58.47" fill="#d1c0d5"/>
<rect x="483.57" y="373.95" width="3.8" height="65.85" fill="#a487a9"/>
<rect x="489.09" y="362.54" width="3.8" height="77.26" fill="#55175f"/>
<rect x="494.61" y="405.56" width="3.8" height="34.24" fill="#1c4a7e"/>
<line x1="394.4" y1="349.1" x2="394.4" y2="440.40000000000003" stroke="#1a1a1a" stroke-width="1.25"/>
<line x1="391.59999999999997" y1="439.8" x2="499" y2="439.8" stroke="#1a1a1a" stroke-width="1.25"/>
<line x1="391.4" y1="439.8" x2="394.4" y2="439.8" stroke="#1a1a1a" stroke-width="1.1"/>
<text x="388.2" y="442.8" font-size="8.6" text-anchor="end" fill="#333333" font-weight="normal" textLength="4.8" lengthAdjust="spacingAndGlyphs" >0</text>
<line x1="391.4" y1="422.24" x2="394.4" y2="422.24" stroke="#1a1a1a" stroke-width="1.1"/>
<text x="388.2" y="425.24" font-size="8.6" text-anchor="end" fill="#333333" font-weight="normal" textLength="9.1" lengthAdjust="spacingAndGlyphs" >20</text>
<line x1="391.4" y1="404.68" x2="394.4" y2="404.68" stroke="#1a1a1a" stroke-width="1.1"/>
<text x="388.2" y="407.68" font-size="8.6" text-anchor="end" fill="#333333" font-weight="normal" textLength="9.1" lengthAdjust="spacingAndGlyphs" >40</text>
<line x1="391.4" y1="387.12" x2="394.4" y2="387.12" stroke="#1a1a1a" stroke-width="1.1"/>
<text x="388.2" y="390.12" font-size="8.6" text-anchor="end" fill="#333333" font-weight="normal" textLength="9.1" lengthAdjust="spacingAndGlyphs" >60</text>
<line x1="391.4" y1="369.56" x2="394.4" y2="369.56" stroke="#1a1a1a" stroke-width="1.1"/>
<text x="388.2" y="372.56" font-size="8.6" text-anchor="end" fill="#333333" font-weight="normal" textLength="9.1" lengthAdjust="spacingAndGlyphs" >80</text>
<line x1="391.4" y1="352.0" x2="394.4" y2="352.0" stroke="#1a1a1a" stroke-width="1.1"/>
<text x="388.2" y="355.0" font-size="8.6" text-anchor="end" fill="#333333" font-weight="normal" textLength="12.9" lengthAdjust="spacingAndGlyphs" >100</text>
<text transform="translate(368,394.5) rotate(-90)" font-size="9.4" text-anchor="middle" fill="#333333" stroke="#333333" stroke-width="0.22" textLength="66.5" lengthAdjust="spacingAndGlyphs">% CD63+ platelets</text>
<text transform="translate(408.9,448.8) rotate(-45)" font-size="9.2" text-anchor="end" fill="#333333" textLength="13.2" lengthAdjust="spacingAndGlyphs">PBS</text>
<text transform="translate(433.1,448.8) rotate(-45)" font-size="9.2" text-anchor="end" fill="#333333" textLength="41" lengthAdjust="spacingAndGlyphs">ADP 10 μM</text>
<text transform="translate(459.6,448.8) rotate(-45)" font-size="9.2" text-anchor="end" fill="#333333" textLength="53.2" lengthAdjust="spacingAndGlyphs">CRP 10 μg/mL</text>
<text transform="translate(486.2,448.8) rotate(-45)" font-size="9.2" text-anchor="end" fill="#333333" textLength="51.3" lengthAdjust="spacingAndGlyphs">TRAP6 25 μM</text>
<text x="98.7" y="504" font-size="7.4" text-anchor="start" fill="#333333" font-weight="normal" textLength="43.5" lengthAdjust="spacingAndGlyphs" >Pedigree A:</text>
<rect x="149.2" y="499.1" width="4.8" height="4.9" fill="#d1c0d5"/>
<text x="157.2" y="504" font-size="7.4" text-anchor="start" fill="#333333" font-weight="normal" >C</text>
<rect x="169.5" y="499.1" width="4.8" height="4.9" fill="#a487a9"/>
<text x="177.3" y="504" font-size="7.4" text-anchor="start" fill="#333333" font-weight="normal" >II.2</text>
<rect x="196.2" y="499.1" width="4.8" height="4.9" fill="#55175f"/>
<text x="204" y="504" font-size="7.4" text-anchor="start" fill="#333333" font-weight="normal" >I.2</text>
<rect x="219.89999999999998" y="499.1" width="4.8" height="4.9" fill="#3aa93a"/>
<text x="227.5" y="504" font-size="7.4" text-anchor="start" fill="#333333" font-weight="normal" >II.1</text>
<rect x="246.0" y="499.1" width="4.8" height="4.9" fill="#c40c2c"/>
<text x="254" y="504" font-size="7.4" text-anchor="start" fill="#333333" font-weight="normal" >II.4</text>
<text x="281.6" y="504" font-size="7.4" text-anchor="start" fill="#333333" font-weight="normal" textLength="43.3" lengthAdjust="spacingAndGlyphs" >Pedigree B:</text>
<rect x="332.2" y="499.1" width="4.8" height="4.9" fill="#d1c0d5"/>
<text x="340" y="504" font-size="7.4" text-anchor="start" fill="#333333" font-weight="normal" >C</text>
<rect x="352.0" y="499.1" width="4.8" height="4.9" fill="#a487a9"/>
<text x="360.4" y="504" font-size="7.4" text-anchor="start" fill="#333333" font-weight="normal" >I.1</text>
<rect x="378.59999999999997" y="499.1" width="4.8" height="4.9" fill="#55175f"/>
<text x="386.8" y="504" font-size="7.4" text-anchor="start" fill="#333333" font-weight="normal" >I.2</text>
<rect x="402.5" y="499.1" width="4.8" height="4.9" fill="#1c4a7e"/>
<text x="410.8" y="504" font-size="7.4" text-anchor="start" fill="#333333" font-weight="normal" >II.2</text>
</svg>
</body></html>
